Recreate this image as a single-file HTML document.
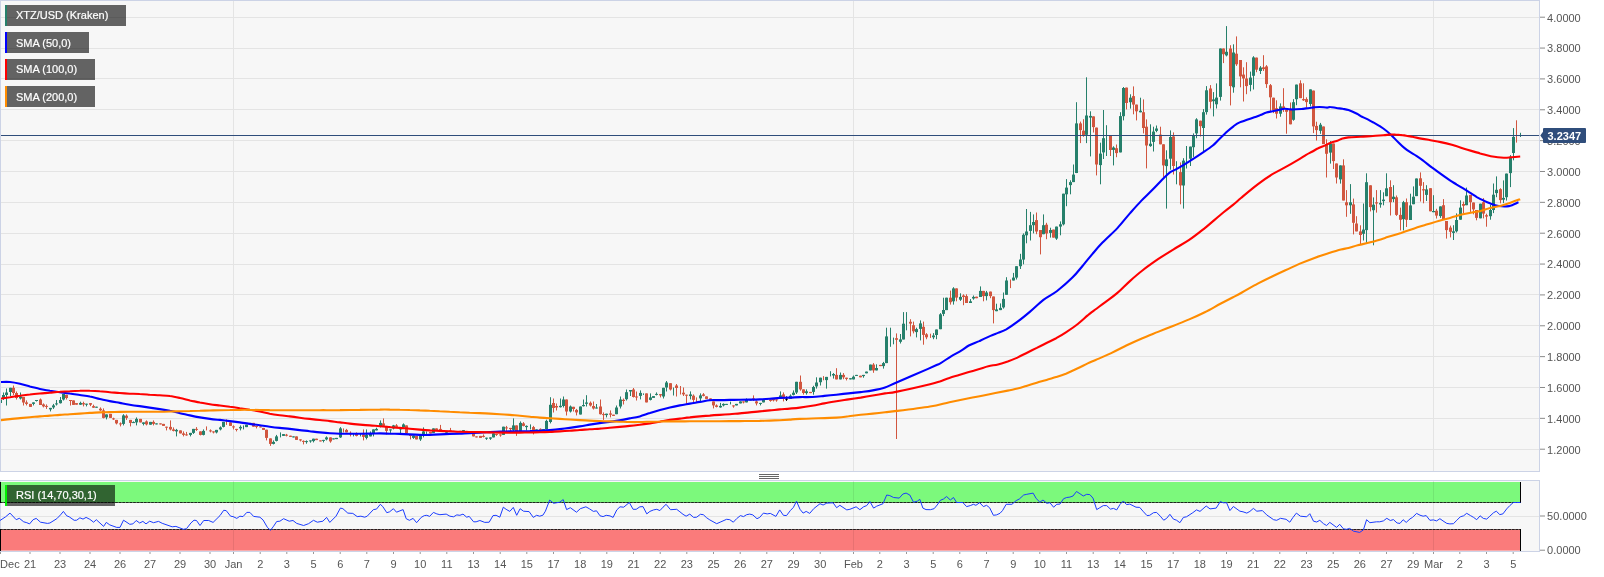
<!DOCTYPE html>
<html lang="en"><head><meta charset="utf-8"><title>XTZ/USD (Kraken)</title>
<style>html,body{margin:0;padding:0;background:#fff}body{width:1604px;height:577px;overflow:hidden}svg{display:block}text{font-family:'Liberation Sans', sans-serif}svg{will-change:transform}</style>
</head><body>
<svg width="1604" height="577" viewBox="0 0 1604 577">
<rect width="1604" height="577" fill="#fff"/>
<rect x="0" y="0" width="1539" height="471" fill="#f7f7f7"/>
<rect x="0" y="480" width="1539" height="71" fill="#f7f7f7"/>
<g stroke="#e4e4e4" stroke-width="1" shape-rendering="crispEdges">
<line x1="1" x2="1539" y1="17.5" y2="17.5"/>
<line x1="1" x2="1539" y1="48.5" y2="48.5"/>
<line x1="1" x2="1539" y1="78.5" y2="78.5"/>
<line x1="1" x2="1539" y1="109.5" y2="109.5"/>
<line x1="1" x2="1539" y1="140.5" y2="140.5"/>
<line x1="1" x2="1539" y1="171.5" y2="171.5"/>
<line x1="1" x2="1539" y1="202.5" y2="202.5"/>
<line x1="1" x2="1539" y1="233.5" y2="233.5"/>
<line x1="1" x2="1539" y1="264.5" y2="264.5"/>
<line x1="1" x2="1539" y1="294.5" y2="294.5"/>
<line x1="1" x2="1539" y1="325.5" y2="325.5"/>
<line x1="1" x2="1539" y1="356.5" y2="356.5"/>
<line x1="1" x2="1539" y1="387.5" y2="387.5"/>
<line x1="1" x2="1539" y1="418.5" y2="418.5"/>
<line x1="1" x2="1539" y1="449.5" y2="449.5"/>
<line x1="233.5" x2="233.5" y1="1" y2="471"/>
<line x1="853.5" x2="853.5" y1="1" y2="471"/>
<line x1="1433.5" x2="1433.5" y1="1" y2="471"/>
<line x1="1" x2="1539" y1="516.5" y2="516.5"/>
</g>
<g>
<g fill="#26806b"><rect x="0" y="399.0" width="1" height="6.0"/><rect x="3" y="392.5" width="1" height="7.5"/><rect x="6" y="388.5" width="1" height="17.0"/><rect x="10" y="387.8" width="1" height="8.2"/><rect x="20" y="392.5" width="1" height="7.0"/><rect x="33" y="402.4" width="1" height="3.0"/><rect x="36" y="400.0" width="1" height="1.5"/><rect x="50" y="407.9" width="1" height="3.5"/><rect x="53" y="403.9" width="1" height="5.0"/><rect x="56" y="400.0" width="1" height="5.5"/><rect x="60" y="397.0" width="1" height="6.5"/><rect x="63" y="394.0" width="1" height="6.5"/><rect x="80" y="401.7" width="1" height="3.2"/><rect x="86" y="403.7" width="1" height="2.7"/><rect x="96" y="406.7" width="1" height="1.0"/><rect x="106" y="414.4" width="1" height="5.0"/><rect x="123" y="414.2" width="1" height="11.2"/><rect x="133" y="421.4" width="1" height="1.5"/><rect x="136" y="417.4" width="1" height="8.0"/><rect x="143" y="422.4" width="1" height="3.0"/><rect x="150" y="421.9" width="1" height="2.8"/><rect x="156" y="423.4" width="1" height="1.0"/><rect x="176" y="428.9" width="1" height="7.5"/><rect x="190" y="432.9" width="1" height="3.5"/><rect x="193" y="428.9" width="1" height="5.0"/><rect x="203" y="429.4" width="1" height="6.0"/><rect x="216" y="429.9" width="1" height="3.5"/><rect x="220" y="426.4" width="1" height="4.0"/><rect x="223" y="421.9" width="1" height="5.5"/><rect x="240" y="425.4" width="1" height="5.0"/><rect x="243" y="425.4" width="1" height="4.0"/><rect x="246" y="424.7" width="1" height="2.4"/><rect x="250" y="422.9" width="1" height="1.0"/><rect x="273" y="440.4" width="1" height="4.0"/><rect x="276" y="434.9" width="1" height="6.5"/><rect x="280" y="432.4" width="1" height="5.0"/><rect x="283" y="434.1" width="1" height="1.8"/><rect x="293" y="436.4" width="1" height="1.0"/><rect x="306" y="440.4" width="1" height="3.3"/><rect x="310" y="440.4" width="1" height="2.3"/><rect x="313" y="438.7" width="1" height="3.7"/><rect x="323" y="439.9" width="1" height="2.5"/><rect x="326" y="436.4" width="1" height="4.0"/><rect x="333" y="438.4" width="1" height="1.0"/><rect x="336" y="437.9" width="1" height="1.2"/><rect x="340" y="427.1" width="1" height="10.8"/><rect x="353" y="433.4" width="1" height="3.0"/><rect x="360" y="433.9" width="1" height="2.5"/><rect x="366" y="429.4" width="1" height="10.0"/><rect x="370" y="431.4" width="1" height="5.0"/><rect x="373" y="429.4" width="1" height="7.0"/><rect x="376" y="427.7" width="1" height="2.7"/><rect x="380" y="420.4" width="1" height="7.0"/><rect x="390" y="429.4" width="1" height="3.5"/><rect x="393" y="424.9" width="1" height="4.5"/><rect x="400" y="428.4" width="1" height="5.0"/><rect x="403" y="423.4" width="1" height="4.0"/><rect x="413" y="435.4" width="1" height="3.5"/><rect x="420" y="435.4" width="1" height="5.5"/><rect x="423" y="427.4" width="1" height="10.0"/><rect x="426" y="431.4" width="1" height="2.5"/><rect x="433" y="428.4" width="1" height="4.5"/><rect x="446" y="431.4" width="1" height="1.3"/><rect x="453" y="430.9" width="1" height="1.0"/><rect x="460" y="430.9" width="1" height="1.0"/><rect x="463" y="430.1" width="1" height="1.3"/><rect x="486" y="437.7" width="1" height="2.2"/><rect x="490" y="437.4" width="1" height="2.5"/><rect x="493" y="433.4" width="1" height="4.0"/><rect x="503" y="426.7" width="1" height="8.2"/><rect x="513" y="418.4" width="1" height="12.5"/><rect x="520" y="421.4" width="1" height="9.5"/><rect x="526" y="425.4" width="1" height="5.0"/><rect x="530" y="424.4" width="1" height="5.0"/><rect x="536" y="429.4" width="1" height="1.0"/><rect x="543" y="429.1" width="1" height="1.0"/><rect x="546" y="419.7" width="1" height="9.7"/><rect x="550" y="397.2" width="1" height="26.2"/><rect x="560" y="398.5" width="1" height="9.0"/><rect x="563" y="396.5" width="1" height="11.0"/><rect x="570" y="405.5" width="1" height="7.0"/><rect x="580" y="406.5" width="1" height="8.0"/><rect x="583" y="399.5" width="1" height="7.0"/><rect x="586" y="395.2" width="1" height="11.3"/><rect x="596" y="404.0" width="1" height="4.5"/><rect x="606" y="413.7" width="1" height="3.7"/><rect x="616" y="405.5" width="1" height="8.7"/><rect x="620" y="396.5" width="1" height="12.0"/><rect x="626" y="389.5" width="1" height="11.0"/><rect x="630" y="390.0" width="1" height="6.0"/><rect x="640" y="390.4" width="1" height="9.0"/><rect x="643" y="393.4" width="1" height="1.5"/><rect x="650" y="393.4" width="1" height="7.0"/><rect x="653" y="396.1" width="1" height="1.8"/><rect x="656" y="392.4" width="1" height="3.0"/><rect x="663" y="387.8" width="1" height="10.7"/><rect x="666" y="381.0" width="1" height="10.5"/><rect x="673" y="387.5" width="1" height="8.0"/><rect x="690" y="391.4" width="1" height="8.0"/><rect x="700" y="393.4" width="1" height="8.5"/><rect x="720" y="402.9" width="1" height="4.8"/><rect x="723" y="403.4" width="1" height="3.0"/><rect x="726" y="403.9" width="1" height="1.0"/><rect x="730" y="401.7" width="1" height="2.7"/><rect x="736" y="403.9" width="1" height="1.5"/><rect x="740" y="401.4" width="1" height="2.0"/><rect x="746" y="398.4" width="1" height="4.0"/><rect x="750" y="399.4" width="1" height="1.0"/><rect x="760" y="402.9" width="1" height="2.5"/><rect x="763" y="399.9" width="1" height="2.5"/><rect x="780" y="391.4" width="1" height="7.5"/><rect x="790" y="394.4" width="1" height="4.5"/><rect x="793" y="390.4" width="1" height="5.0"/><rect x="796" y="381.8" width="1" height="12.2"/><rect x="806" y="389.4" width="1" height="5.2"/><rect x="813" y="385.8" width="1" height="8.9"/><rect x="816" y="377.3" width="1" height="11.3"/><rect x="820" y="377.7" width="1" height="7.8"/><rect x="826" y="376.9" width="1" height="11.7"/><rect x="830" y="371.2" width="1" height="5.2"/><rect x="833" y="373.1" width="1" height="5.5"/><rect x="840" y="372.5" width="1" height="6.9"/><rect x="850" y="378.2" width="1" height="1.2"/><rect x="853" y="375.5" width="1" height="3.9"/><rect x="856" y="374.9" width="1" height="1.0"/><rect x="863" y="374.9" width="1" height="2.8"/><rect x="866" y="371.6" width="1" height="1.7"/><rect x="870" y="364.6" width="1" height="5.8"/><rect x="876" y="364.3" width="1" height="6.1"/><rect x="883" y="361.9" width="1" height="6.7"/><rect x="886" y="327.7" width="1" height="35.4"/><rect x="890" y="327.7" width="1" height="19.1"/><rect x="893" y="337.6" width="1" height="6.7"/><rect x="900" y="334.0" width="1" height="9.5"/><rect x="903" y="312.1" width="1" height="27.3"/><rect x="906" y="312.1" width="1" height="18.2"/><rect x="916" y="327.7" width="1" height="9.7"/><rect x="920" y="320.4" width="1" height="20.0"/><rect x="933" y="333.1" width="1" height="6.1"/><rect x="936" y="329.5" width="1" height="9.7"/><rect x="940" y="313.1" width="1" height="16.1"/><rect x="943" y="297.7" width="1" height="18.4"/><rect x="946" y="297.7" width="1" height="12.4"/><rect x="953" y="287.2" width="1" height="17.4"/><rect x="960" y="293.3" width="1" height="7.6"/><rect x="970" y="299.1" width="1" height="3.9"/><rect x="973" y="295.5" width="1" height="4.2"/><rect x="980" y="286.4" width="1" height="10.6"/><rect x="986" y="290.9" width="1" height="9.5"/><rect x="996" y="303.7" width="1" height="7.5"/><rect x="1000" y="303.4" width="1" height="6.7"/><rect x="1003" y="292.5" width="1" height="16.1"/><rect x="1006" y="277.2" width="1" height="17.5"/><rect x="1013" y="272.9" width="1" height="7.6"/><rect x="1016" y="266.2" width="1" height="13.3"/><rect x="1020" y="253.8" width="1" height="15.2"/><rect x="1023" y="233.4" width="1" height="30.9"/><rect x="1026" y="209.0" width="1" height="34.3"/><rect x="1030" y="211.9" width="1" height="28.6"/><rect x="1033" y="214.4" width="1" height="19.0"/><rect x="1043" y="214.4" width="1" height="19.8"/><rect x="1050" y="227.7" width="1" height="9.9"/><rect x="1056" y="226.6" width="1" height="13.3"/><rect x="1060" y="221.4" width="1" height="13.9"/><rect x="1063" y="193.7" width="1" height="31.7"/><rect x="1066" y="179.1" width="1" height="27.1"/><rect x="1070" y="180.3" width="1" height="14.0"/><rect x="1073" y="164.5" width="1" height="17.6"/><rect x="1076" y="102.2" width="1" height="70.9"/><rect x="1086" y="77.3" width="1" height="65.8"/><rect x="1090" y="111.3" width="1" height="45.1"/><rect x="1100" y="142.7" width="1" height="41.6"/><rect x="1103" y="110.0" width="1" height="49.0"/><rect x="1106" y="125.2" width="1" height="30.8"/><rect x="1113" y="146.3" width="1" height="19.1"/><rect x="1120" y="112.2" width="1" height="40.2"/><rect x="1123" y="87.0" width="1" height="33.4"/><rect x="1130" y="94.3" width="1" height="14.3"/><rect x="1140" y="97.7" width="1" height="14.6"/><rect x="1150" y="124.3" width="1" height="22.5"/><rect x="1153" y="126.7" width="1" height="24.8"/><rect x="1156" y="125.5" width="1" height="6.7"/><rect x="1166" y="150.3" width="1" height="58.3"/><rect x="1170" y="130.4" width="1" height="39.3"/><rect x="1176" y="161.2" width="1" height="23.1"/><rect x="1183" y="158.2" width="1" height="50.4"/><rect x="1186" y="146.0" width="1" height="22.5"/><rect x="1190" y="146.6" width="1" height="19.4"/><rect x="1193" y="133.4" width="1" height="23.5"/><rect x="1196" y="118.2" width="1" height="20.0"/><rect x="1203" y="109.1" width="1" height="43.0"/><rect x="1206" y="86.1" width="1" height="28.5"/><rect x="1213" y="92.1" width="1" height="24.3"/><rect x="1216" y="83.4" width="1" height="25.1"/><rect x="1220" y="48.5" width="1" height="52.1"/><rect x="1226" y="26.1" width="1" height="30.3"/><rect x="1233" y="44.3" width="1" height="48.4"/><rect x="1250" y="71.6" width="1" height="19.7"/><rect x="1253" y="56.2" width="1" height="33.3"/><rect x="1260" y="66.1" width="1" height="7.9"/><rect x="1280" y="103.4" width="1" height="13.3"/><rect x="1293" y="99.1" width="1" height="21.6"/><rect x="1296" y="84.6" width="1" height="20.6"/><rect x="1310" y="89.4" width="1" height="17.0"/><rect x="1320" y="122.9" width="1" height="10.9"/><rect x="1330" y="141.1" width="1" height="22.5"/><rect x="1340" y="165.4" width="1" height="18.2"/><rect x="1350" y="184.1" width="1" height="29.7"/><rect x="1363" y="203.5" width="1" height="37.0"/><rect x="1366" y="173.3" width="1" height="69.7"/><rect x="1373" y="197.4" width="1" height="47.9"/><rect x="1380" y="190.1" width="1" height="17.6"/><rect x="1383" y="192.3" width="1" height="13.0"/><rect x="1386" y="173.3" width="1" height="22.9"/><rect x="1393" y="185.2" width="1" height="17.0"/><rect x="1403" y="200.9" width="1" height="29.5"/><rect x="1410" y="193.7" width="1" height="26.3"/><rect x="1413" y="186.4" width="1" height="17.8"/><rect x="1416" y="178.5" width="1" height="17.6"/><rect x="1426" y="185.2" width="1" height="15.8"/><rect x="1433" y="195.2" width="1" height="17.0"/><rect x="1440" y="206.4" width="1" height="11.5"/><rect x="1453" y="225.2" width="1" height="14.8"/><rect x="1456" y="213.4" width="1" height="19.1"/><rect x="1460" y="200.3" width="1" height="19.4"/><rect x="1466" y="187.6" width="1" height="17.6"/><rect x="1480" y="203.7" width="1" height="14.6"/><rect x="1490" y="204.8" width="1" height="14.9"/><rect x="1493" y="183.5" width="1" height="29.6"/><rect x="1496" y="176.4" width="1" height="20.8"/><rect x="1503" y="180.4" width="1" height="22.7"/><rect x="1506" y="173.6" width="1" height="27.0"/><rect x="1510" y="155.1" width="1" height="32.0"/><rect x="1513" y="128.1" width="1" height="32.2"/><rect x="1520" y="132.8" width="1" height="4.2"/><rect x="-1" y="400.0" width="3" height="3.0"/><rect x="2" y="395.0" width="3" height="4.0"/><rect x="5" y="392.5" width="3" height="2.5"/><rect x="9" y="387.8" width="3" height="4.2"/><rect x="19" y="396.5" width="3" height="2.0"/><rect x="32" y="402.4" width="3" height="1.5"/><rect x="35" y="400.0" width="3" height="1.0"/><rect x="49" y="407.9" width="3" height="1.5"/><rect x="52" y="405.4" width="3" height="2.0"/><rect x="55" y="403.4" width="3" height="1.0"/><rect x="59" y="400.0" width="3" height="3.2"/><rect x="62" y="394.0" width="3" height="5.5"/><rect x="79" y="402.9" width="3" height="1.8"/><rect x="85" y="403.7" width="3" height="1.0"/><rect x="95" y="406.7" width="3" height="1.0"/><rect x="105" y="414.4" width="3" height="3.0"/><rect x="122" y="415.4" width="3" height="8.5"/><rect x="132" y="422.1" width="3" height="1.0"/><rect x="135" y="418.9" width="3" height="3.5"/><rect x="142" y="422.4" width="3" height="1.5"/><rect x="149" y="421.9" width="3" height="2.8"/><rect x="155" y="423.4" width="3" height="1.0"/><rect x="175" y="429.9" width="3" height="1.5"/><rect x="189" y="432.9" width="3" height="2.0"/><rect x="192" y="428.9" width="3" height="4.0"/><rect x="202" y="430.9" width="3" height="4.0"/><rect x="215" y="429.9" width="3" height="2.5"/><rect x="219" y="427.4" width="3" height="2.0"/><rect x="222" y="421.9" width="3" height="5.0"/><rect x="239" y="426.9" width="3" height="1.5"/><rect x="245" y="424.7" width="3" height="2.4"/><rect x="249" y="422.9" width="3" height="1.0"/><rect x="272" y="441.9" width="3" height="2.0"/><rect x="275" y="436.4" width="3" height="4.5"/><rect x="282" y="434.1" width="3" height="1.8"/><rect x="292" y="436.4" width="3" height="1.0"/><rect x="305" y="441.1" width="3" height="1.0"/><rect x="309" y="440.4" width="3" height="1.0"/><rect x="312" y="438.7" width="3" height="2.4"/><rect x="322" y="439.9" width="3" height="1.0"/><rect x="325" y="437.4" width="3" height="2.0"/><rect x="332" y="438.4" width="3" height="1.0"/><rect x="335" y="437.9" width="3" height="1.2"/><rect x="339" y="428.4" width="3" height="9.0"/><rect x="365" y="434.9" width="3" height="3.0"/><rect x="369" y="433.4" width="3" height="3.0"/><rect x="372" y="429.4" width="3" height="4.5"/><rect x="375" y="428.9" width="3" height="1.5"/><rect x="379" y="422.9" width="3" height="4.0"/><rect x="389" y="429.4" width="3" height="1.0"/><rect x="392" y="425.4" width="3" height="3.0"/><rect x="399" y="428.4" width="3" height="1.0"/><rect x="402" y="424.4" width="3" height="3.0"/><rect x="412" y="435.4" width="3" height="2.5"/><rect x="419" y="435.4" width="3" height="4.0"/><rect x="422" y="431.4" width="3" height="4.0"/><rect x="432" y="428.4" width="3" height="4.5"/><rect x="445" y="431.4" width="3" height="1.3"/><rect x="452" y="430.9" width="3" height="1.0"/><rect x="459" y="430.9" width="3" height="1.0"/><rect x="462" y="430.1" width="3" height="1.3"/><rect x="485" y="437.7" width="3" height="1.0"/><rect x="489" y="437.4" width="3" height="1.3"/><rect x="492" y="433.4" width="3" height="4.0"/><rect x="502" y="426.7" width="3" height="8.2"/><rect x="512" y="425.4" width="3" height="4.5"/><rect x="519" y="422.9" width="3" height="8.0"/><rect x="525" y="425.9" width="3" height="1.2"/><rect x="535" y="429.4" width="3" height="1.0"/><rect x="542" y="429.1" width="3" height="1.0"/><rect x="545" y="420.9" width="3" height="8.5"/><rect x="549" y="404.8" width="3" height="17.2"/><rect x="559" y="405.8" width="3" height="1.4"/><rect x="562" y="399.5" width="3" height="6.5"/><rect x="569" y="406.5" width="3" height="5.0"/><rect x="579" y="406.5" width="3" height="8.0"/><rect x="582" y="405.0" width="3" height="1.2"/><rect x="585" y="402.5" width="3" height="1.3"/><rect x="595" y="407.5" width="3" height="1.0"/><rect x="605" y="413.7" width="3" height="1.4"/><rect x="615" y="407.5" width="3" height="6.7"/><rect x="619" y="399.5" width="3" height="7.0"/><rect x="625" y="392.2" width="3" height="7.0"/><rect x="629" y="390.0" width="3" height="1.5"/><rect x="639" y="392.9" width="3" height="3.0"/><rect x="649" y="397.4" width="3" height="2.5"/><rect x="652" y="396.1" width="3" height="1.8"/><rect x="655" y="393.9" width="3" height="1.0"/><rect x="662" y="387.8" width="3" height="8.7"/><rect x="665" y="382.5" width="3" height="5.0"/><rect x="689" y="394.4" width="3" height="1.7"/><rect x="699" y="395.4" width="3" height="3.0"/><rect x="719" y="405.9" width="3" height="1.5"/><rect x="722" y="403.9" width="3" height="1.5"/><rect x="725" y="403.9" width="3" height="1.0"/><rect x="735" y="403.9" width="3" height="1.5"/><rect x="739" y="401.4" width="3" height="2.0"/><rect x="745" y="399.4" width="3" height="3.0"/><rect x="749" y="399.4" width="3" height="1.0"/><rect x="759" y="402.9" width="3" height="1.0"/><rect x="762" y="399.9" width="3" height="2.5"/><rect x="779" y="395.4" width="3" height="3.5"/><rect x="789" y="395.7" width="3" height="3.2"/><rect x="792" y="392.7" width="3" height="2.2"/><rect x="795" y="381.8" width="3" height="10.7"/><rect x="805" y="391.3" width="3" height="1.8"/><rect x="812" y="387.0" width="3" height="4.9"/><rect x="815" y="382.5" width="3" height="3.9"/><rect x="819" y="377.7" width="3" height="4.5"/><rect x="825" y="376.9" width="3" height="3.2"/><rect x="832" y="374.0" width="3" height="1.5"/><rect x="839" y="374.9" width="3" height="4.5"/><rect x="849" y="378.2" width="3" height="1.2"/><rect x="852" y="376.7" width="3" height="2.7"/><rect x="855" y="374.9" width="3" height="1.0"/><rect x="862" y="374.9" width="3" height="1.2"/><rect x="865" y="371.6" width="3" height="1.7"/><rect x="869" y="364.6" width="3" height="5.8"/><rect x="875" y="368.0" width="3" height="2.4"/><rect x="882" y="363.1" width="3" height="3.0"/><rect x="885" y="336.4" width="3" height="26.7"/><rect x="899" y="339.4" width="3" height="2.4"/><rect x="902" y="323.7" width="3" height="15.8"/><rect x="915" y="329.1" width="3" height="3.0"/><rect x="919" y="323.4" width="3" height="5.5"/><rect x="932" y="335.5" width="3" height="1.8"/><rect x="935" y="329.5" width="3" height="5.5"/><rect x="939" y="314.3" width="3" height="14.9"/><rect x="942" y="310.0" width="3" height="3.9"/><rect x="945" y="297.7" width="3" height="12.4"/><rect x="952" y="288.4" width="3" height="12.9"/><rect x="959" y="296.9" width="3" height="2.8"/><rect x="969" y="301.3" width="3" height="1.7"/><rect x="972" y="296.9" width="3" height="1.6"/><rect x="979" y="290.9" width="3" height="6.1"/><rect x="985" y="292.5" width="3" height="3.6"/><rect x="995" y="309.4" width="3" height="1.8"/><rect x="999" y="307.9" width="3" height="2.2"/><rect x="1002" y="298.9" width="3" height="8.5"/><rect x="1005" y="280.5" width="3" height="14.3"/><rect x="1012" y="277.6" width="3" height="2.9"/><rect x="1015" y="266.2" width="3" height="11.4"/><rect x="1019" y="259.5" width="3" height="6.7"/><rect x="1022" y="234.8" width="3" height="24.8"/><rect x="1025" y="231.5" width="3" height="3.8"/><rect x="1029" y="225.2" width="3" height="5.7"/><rect x="1032" y="222.0" width="3" height="3.2"/><rect x="1042" y="225.2" width="3" height="9.0"/><rect x="1049" y="230.0" width="3" height="2.9"/><rect x="1055" y="226.6" width="3" height="12.0"/><rect x="1059" y="224.3" width="3" height="2.3"/><rect x="1062" y="193.7" width="3" height="30.6"/><rect x="1065" y="187.6" width="3" height="6.7"/><rect x="1069" y="182.1" width="3" height="3.0"/><rect x="1072" y="174.6" width="3" height="7.5"/><rect x="1075" y="123.4" width="3" height="49.6"/><rect x="1085" y="115.5" width="3" height="19.3"/><rect x="1089" y="115.9" width="3" height="1.7"/><rect x="1099" y="153.6" width="3" height="11.5"/><rect x="1102" y="138.2" width="3" height="14.2"/><rect x="1112" y="147.5" width="3" height="2.4"/><rect x="1119" y="116.1" width="3" height="36.3"/><rect x="1122" y="88.0" width="3" height="28.2"/><rect x="1129" y="97.7" width="3" height="4.5"/><rect x="1139" y="110.7" width="3" height="1.6"/><rect x="1149" y="143.7" width="3" height="2.4"/><rect x="1152" y="131.6" width="3" height="10.3"/><rect x="1155" y="128.5" width="3" height="2.4"/><rect x="1165" y="159.4" width="3" height="6.7"/><rect x="1169" y="137.0" width="3" height="21.7"/><rect x="1182" y="160.6" width="3" height="24.9"/><rect x="1189" y="146.6" width="3" height="12.1"/><rect x="1192" y="135.2" width="3" height="12.0"/><rect x="1195" y="119.4" width="3" height="14.0"/><rect x="1202" y="112.2" width="3" height="15.8"/><rect x="1205" y="90.3" width="3" height="21.8"/><rect x="1212" y="99.4" width="3" height="1.8"/><rect x="1215" y="97.6" width="3" height="6.7"/><rect x="1219" y="48.5" width="3" height="48.4"/><rect x="1225" y="51.8" width="3" height="3.6"/><rect x="1232" y="52.5" width="3" height="34.8"/><rect x="1249" y="77.6" width="3" height="7.3"/><rect x="1252" y="57.4" width="3" height="18.4"/><rect x="1259" y="67.6" width="3" height="3.4"/><rect x="1279" y="106.4" width="3" height="7.3"/><rect x="1292" y="102.2" width="3" height="17.6"/><rect x="1295" y="84.6" width="3" height="14.6"/><rect x="1309" y="89.4" width="3" height="14.6"/><rect x="1319" y="124.7" width="3" height="6.1"/><rect x="1329" y="143.5" width="3" height="9.1"/><rect x="1339" y="165.4" width="3" height="14.0"/><rect x="1349" y="202.3" width="3" height="3.0"/><rect x="1362" y="229.6" width="3" height="4.2"/><rect x="1365" y="182.2" width="3" height="47.9"/><rect x="1372" y="204.7" width="3" height="5.5"/><rect x="1379" y="202.9" width="3" height="1.6"/><rect x="1382" y="199.6" width="3" height="1.5"/><rect x="1385" y="188.3" width="3" height="7.9"/><rect x="1392" y="196.7" width="3" height="2.4"/><rect x="1402" y="202.2" width="3" height="17.0"/><rect x="1409" y="205.4" width="3" height="14.6"/><rect x="1412" y="196.7" width="3" height="7.5"/><rect x="1415" y="178.5" width="3" height="17.6"/><rect x="1425" y="189.4" width="3" height="5.5"/><rect x="1432" y="211.0" width="3" height="1.2"/><rect x="1439" y="206.4" width="3" height="9.7"/><rect x="1452" y="231.3" width="3" height="1.6"/><rect x="1455" y="220.0" width="3" height="11.3"/><rect x="1459" y="207.6" width="3" height="12.1"/><rect x="1465" y="195.5" width="3" height="9.7"/><rect x="1479" y="203.7" width="3" height="14.6"/><rect x="1489" y="210.0" width="3" height="6.2"/><rect x="1492" y="194.7" width="3" height="15.3"/><rect x="1495" y="189.8" width="3" height="3.3"/><rect x="1502" y="197.9" width="3" height="1.8"/><rect x="1505" y="173.6" width="3" height="23.6"/><rect x="1509" y="156.7" width="3" height="16.4"/><rect x="1512" y="136.9" width="3" height="16.1"/></g>
<g fill="#d1563f"><rect x="13" y="385.5" width="1" height="9.5"/><rect x="16" y="391.5" width="1" height="8.0"/><rect x="23" y="397.0" width="1" height="8.5"/><rect x="26" y="400.4" width="1" height="5.0"/><rect x="30" y="403.9" width="1" height="3.0"/><rect x="40" y="398.5" width="1" height="6.5"/><rect x="43" y="403.4" width="1" height="4.0"/><rect x="46" y="404.4" width="1" height="4.5"/><rect x="66" y="394.8" width="1" height="4.7"/><rect x="70" y="400.0" width="1" height="5.5"/><rect x="73" y="400.4" width="1" height="4.5"/><rect x="76" y="403.1" width="1" height="1.6"/><rect x="83" y="401.7" width="1" height="4.7"/><rect x="90" y="403.1" width="1" height="3.0"/><rect x="93" y="404.7" width="1" height="3.2"/><rect x="100" y="407.4" width="1" height="3.5"/><rect x="103" y="408.4" width="1" height="10.0"/><rect x="110" y="413.9" width="1" height="4.0"/><rect x="113" y="417.7" width="1" height="2.2"/><rect x="116" y="419.9" width="1" height="4.5"/><rect x="120" y="422.4" width="1" height="4.0"/><rect x="126" y="414.4" width="1" height="5.5"/><rect x="130" y="419.9" width="1" height="6.5"/><rect x="140" y="418.9" width="1" height="3.5"/><rect x="146" y="420.4" width="1" height="5.0"/><rect x="153" y="420.4" width="1" height="5.0"/><rect x="160" y="423.4" width="1" height="1.0"/><rect x="163" y="423.9" width="1" height="2.0"/><rect x="166" y="426.7" width="1" height="3.7"/><rect x="170" y="420.4" width="1" height="10.0"/><rect x="173" y="427.4" width="1" height="4.0"/><rect x="180" y="430.4" width="1" height="3.0"/><rect x="183" y="431.4" width="1" height="5.0"/><rect x="186" y="431.9" width="1" height="3.8"/><rect x="196" y="427.1" width="1" height="3.8"/><rect x="200" y="431.4" width="1" height="4.0"/><rect x="206" y="426.4" width="1" height="4.0"/><rect x="210" y="429.4" width="1" height="3.0"/><rect x="213" y="431.4" width="1" height="2.0"/><rect x="226" y="419.4" width="1" height="5.5"/><rect x="230" y="422.4" width="1" height="3.5"/><rect x="233" y="425.4" width="1" height="4.0"/><rect x="236" y="428.9" width="1" height="2.5"/><rect x="253" y="422.9" width="1" height="3.8"/><rect x="256" y="425.9" width="1" height="2.5"/><rect x="260" y="426.4" width="1" height="1.0"/><rect x="263" y="427.9" width="1" height="2.0"/><rect x="266" y="429.7" width="1" height="10.7"/><rect x="270" y="438.4" width="1" height="7.5"/><rect x="286" y="433.9" width="1" height="2.5"/><rect x="290" y="435.7" width="1" height="1.2"/><rect x="296" y="436.4" width="1" height="3.5"/><rect x="300" y="439.4" width="1" height="2.0"/><rect x="303" y="440.4" width="1" height="4.0"/><rect x="316" y="438.7" width="1" height="1.4"/><rect x="320" y="440.4" width="1" height="1.0"/><rect x="330" y="437.4" width="1" height="5.3"/><rect x="343" y="428.4" width="1" height="4.0"/><rect x="346" y="428.9" width="1" height="3.5"/><rect x="350" y="431.4" width="1" height="5.0"/><rect x="356" y="432.4" width="1" height="4.0"/><rect x="363" y="429.4" width="1" height="11.0"/><rect x="383" y="418.4" width="1" height="8.5"/><rect x="386" y="425.9" width="1" height="8.5"/><rect x="396" y="424.1" width="1" height="2.8"/><rect x="406" y="425.4" width="1" height="9.5"/><rect x="410" y="434.9" width="1" height="4.5"/><rect x="416" y="435.9" width="1" height="3.5"/><rect x="430" y="431.9" width="1" height="1.5"/><rect x="436" y="428.4" width="1" height="2.0"/><rect x="440" y="424.9" width="1" height="5.0"/><rect x="443" y="430.4" width="1" height="1.0"/><rect x="450" y="427.9" width="1" height="4.0"/><rect x="456" y="431.1" width="1" height="1.0"/><rect x="466" y="430.9" width="1" height="1.2"/><rect x="470" y="431.9" width="1" height="1.5"/><rect x="473" y="433.4" width="1" height="3.0"/><rect x="476" y="436.4" width="1" height="1.0"/><rect x="480" y="435.9" width="1" height="2.0"/><rect x="483" y="434.4" width="1" height="3.0"/><rect x="496" y="433.9" width="1" height="2.0"/><rect x="500" y="434.4" width="1" height="2.3"/><rect x="506" y="425.9" width="1" height="5.0"/><rect x="510" y="427.9" width="1" height="3.0"/><rect x="516" y="425.4" width="1" height="10.5"/><rect x="523" y="422.1" width="1" height="4.3"/><rect x="533" y="425.9" width="1" height="8.5"/><rect x="540" y="428.4" width="1" height="1.5"/><rect x="553" y="398.5" width="1" height="14.0"/><rect x="556" y="403.5" width="1" height="7.0"/><rect x="566" y="399.5" width="1" height="16.0"/><rect x="573" y="406.8" width="1" height="4.7"/><rect x="576" y="408.9" width="1" height="6.5"/><rect x="590" y="401.5" width="1" height="5.0"/><rect x="593" y="401.5" width="1" height="8.0"/><rect x="600" y="399.5" width="1" height="15.0"/><rect x="603" y="412.4" width="1" height="7.5"/><rect x="610" y="410.4" width="1" height="7.0"/><rect x="613" y="414.7" width="1" height="1.2"/><rect x="623" y="398.5" width="1" height="6.0"/><rect x="633" y="388.0" width="1" height="9.5"/><rect x="636" y="391.5" width="1" height="9.0"/><rect x="646" y="393.4" width="1" height="9.0"/><rect x="660" y="394.1" width="1" height="3.3"/><rect x="670" y="383.2" width="1" height="7.3"/><rect x="676" y="384.0" width="1" height="12.5"/><rect x="680" y="386.0" width="1" height="8.5"/><rect x="683" y="387.5" width="1" height="8.5"/><rect x="686" y="394.7" width="1" height="9.2"/><rect x="693" y="394.4" width="1" height="8.0"/><rect x="696" y="397.4" width="1" height="5.0"/><rect x="703" y="393.1" width="1" height="3.3"/><rect x="706" y="396.4" width="1" height="2.5"/><rect x="710" y="398.4" width="1" height="1.5"/><rect x="713" y="401.4" width="1" height="7.0"/><rect x="716" y="404.4" width="1" height="3.0"/><rect x="733" y="405.4" width="1" height="2.3"/><rect x="743" y="401.4" width="1" height="2.0"/><rect x="753" y="395.4" width="1" height="5.5"/><rect x="756" y="400.4" width="1" height="5.0"/><rect x="766" y="398.7" width="1" height="1.2"/><rect x="770" y="399.4" width="1" height="2.3"/><rect x="773" y="398.9" width="1" height="2.5"/><rect x="776" y="399.4" width="1" height="2.3"/><rect x="783" y="392.4" width="1" height="9.0"/><rect x="800" y="375.5" width="1" height="15.2"/><rect x="803" y="389.4" width="1" height="5.2"/><rect x="810" y="391.9" width="1" height="1.2"/><rect x="823" y="376.1" width="1" height="4.2"/><rect x="836" y="368.2" width="1" height="11.2"/><rect x="843" y="373.1" width="1" height="6.1"/><rect x="846" y="377.7" width="1" height="2.7"/><rect x="860" y="375.7" width="1" height="1.6"/><rect x="873" y="363.1" width="1" height="9.7"/><rect x="880" y="364.9" width="1" height="1.2"/><rect x="896" y="333.4" width="1" height="105.6"/><rect x="910" y="319.2" width="1" height="17.2"/><rect x="913" y="321.6" width="1" height="11.8"/><rect x="923" y="321.6" width="1" height="23.1"/><rect x="926" y="333.1" width="1" height="6.1"/><rect x="930" y="333.7" width="1" height="4.2"/><rect x="950" y="290.6" width="1" height="14.0"/><rect x="956" y="288.4" width="1" height="12.9"/><rect x="963" y="294.3" width="1" height="10.9"/><rect x="966" y="294.3" width="1" height="8.7"/><rect x="976" y="296.7" width="1" height="1.5"/><rect x="983" y="290.9" width="1" height="10.4"/><rect x="990" y="291.6" width="1" height="6.6"/><rect x="993" y="296.5" width="1" height="26.9"/><rect x="1010" y="279.5" width="1" height="8.6"/><rect x="1036" y="212.5" width="1" height="21.7"/><rect x="1040" y="230.0" width="1" height="24.4"/><rect x="1046" y="222.8" width="1" height="16.4"/><rect x="1053" y="229.6" width="1" height="8.0"/><rect x="1080" y="121.6" width="1" height="21.5"/><rect x="1083" y="119.2" width="1" height="17.6"/><rect x="1093" y="116.4" width="1" height="16.1"/><rect x="1096" y="127.6" width="1" height="47.8"/><rect x="1110" y="136.0" width="1" height="20.0"/><rect x="1116" y="144.5" width="1" height="12.7"/><rect x="1126" y="87.6" width="1" height="21.8"/><rect x="1133" y="86.4" width="1" height="27.9"/><rect x="1136" y="104.6" width="1" height="15.8"/><rect x="1143" y="99.4" width="1" height="34.0"/><rect x="1146" y="119.4" width="1" height="49.0"/><rect x="1160" y="126.7" width="1" height="17.6"/><rect x="1163" y="144.3" width="1" height="32.6"/><rect x="1173" y="132.4" width="1" height="42.1"/><rect x="1180" y="162.4" width="1" height="41.9"/><rect x="1200" y="120.7" width="1" height="15.8"/><rect x="1210" y="85.1" width="1" height="23.4"/><rect x="1223" y="48.5" width="1" height="14.6"/><rect x="1230" y="45.2" width="1" height="60.2"/><rect x="1236" y="36.4" width="1" height="29.5"/><rect x="1240" y="60.0" width="1" height="27.3"/><rect x="1243" y="67.3" width="1" height="34.2"/><rect x="1246" y="62.2" width="1" height="32.0"/><rect x="1256" y="57.6" width="1" height="14.6"/><rect x="1263" y="55.2" width="1" height="15.8"/><rect x="1266" y="65.1" width="1" height="22.8"/><rect x="1270" y="84.0" width="1" height="27.3"/><rect x="1273" y="97.7" width="1" height="15.4"/><rect x="1276" y="100.3" width="1" height="18.2"/><rect x="1283" y="88.2" width="1" height="23.7"/><rect x="1286" y="109.4" width="1" height="24.3"/><rect x="1290" y="102.5" width="1" height="21.8"/><rect x="1300" y="80.3" width="1" height="17.8"/><rect x="1303" y="83.3" width="1" height="17.6"/><rect x="1306" y="97.3" width="1" height="10.3"/><rect x="1313" y="90.6" width="1" height="42.5"/><rect x="1316" y="121.7" width="1" height="18.8"/><rect x="1323" y="126.5" width="1" height="17.6"/><rect x="1326" y="139.3" width="1" height="38.2"/><rect x="1333" y="143.5" width="1" height="25.5"/><rect x="1336" y="163.5" width="1" height="20.0"/><rect x="1343" y="159.3" width="1" height="41.1"/><rect x="1346" y="190.1" width="1" height="26.7"/><rect x="1353" y="198.6" width="1" height="35.8"/><rect x="1356" y="216.2" width="1" height="15.2"/><rect x="1360" y="225.3" width="1" height="18.8"/><rect x="1370" y="185.3" width="1" height="26.1"/><rect x="1376" y="190.1" width="1" height="22.5"/><rect x="1390" y="180.3" width="1" height="35.2"/><rect x="1396" y="195.5" width="1" height="20.4"/><rect x="1400" y="207.6" width="1" height="22.8"/><rect x="1406" y="198.5" width="1" height="28.5"/><rect x="1420" y="172.4" width="1" height="29.1"/><rect x="1423" y="182.1" width="1" height="21.2"/><rect x="1430" y="188.2" width="1" height="23.1"/><rect x="1436" y="208.8" width="1" height="9.7"/><rect x="1443" y="199.1" width="1" height="20.0"/><rect x="1446" y="221.0" width="1" height="17.6"/><rect x="1450" y="225.6" width="1" height="11.8"/><rect x="1463" y="201.6" width="1" height="11.5"/><rect x="1470" y="194.9" width="1" height="17.0"/><rect x="1473" y="202.5" width="1" height="11.8"/><rect x="1476" y="210.0" width="1" height="10.3"/><rect x="1483" y="198.1" width="1" height="20.3"/><rect x="1486" y="213.7" width="1" height="13.0"/><rect x="1500" y="188.2" width="1" height="15.1"/><rect x="1516" y="120.3" width="1" height="22.3"/><rect x="12" y="387.8" width="3" height="5.2"/><rect x="15" y="393.0" width="3" height="5.0"/><rect x="22" y="397.0" width="3" height="5.5"/><rect x="25" y="402.4" width="3" height="1.5"/><rect x="29" y="403.9" width="3" height="3.0"/><rect x="39" y="399.5" width="3" height="5.5"/><rect x="42" y="404.4" width="3" height="2.0"/><rect x="45" y="405.9" width="3" height="1.0"/><rect x="65" y="394.8" width="3" height="3.2"/><rect x="69" y="400.0" width="3" height="1.0"/><rect x="72" y="400.4" width="3" height="4.5"/><rect x="75" y="403.1" width="3" height="1.6"/><rect x="82" y="403.1" width="3" height="1.3"/><rect x="89" y="403.1" width="3" height="1.6"/><rect x="92" y="406.1" width="3" height="1.6"/><rect x="99" y="408.7" width="3" height="1.7"/><rect x="102" y="410.4" width="3" height="7.5"/><rect x="109" y="413.9" width="3" height="4.0"/><rect x="112" y="418.4" width="3" height="1.0"/><rect x="115" y="419.9" width="3" height="3.5"/><rect x="119" y="423.4" width="3" height="1.0"/><rect x="125" y="415.7" width="3" height="2.2"/><rect x="129" y="419.9" width="3" height="3.0"/><rect x="139" y="418.9" width="3" height="3.5"/><rect x="145" y="421.4" width="3" height="3.0"/><rect x="152" y="421.9" width="3" height="2.0"/><rect x="159" y="423.4" width="3" height="1.0"/><rect x="162" y="423.9" width="3" height="2.0"/><rect x="165" y="426.7" width="3" height="1.0"/><rect x="169" y="426.9" width="3" height="2.5"/><rect x="172" y="429.4" width="3" height="1.5"/><rect x="179" y="430.4" width="3" height="3.0"/><rect x="182" y="433.4" width="3" height="1.5"/><rect x="185" y="434.4" width="3" height="1.0"/><rect x="195" y="428.9" width="3" height="1.0"/><rect x="199" y="431.4" width="3" height="3.5"/><rect x="209" y="430.4" width="3" height="1.0"/><rect x="212" y="431.4" width="3" height="1.0"/><rect x="229" y="422.4" width="3" height="3.5"/><rect x="232" y="426.4" width="3" height="1.0"/><rect x="235" y="428.9" width="3" height="1.0"/><rect x="252" y="422.9" width="3" height="3.8"/><rect x="255" y="425.9" width="3" height="1.0"/><rect x="259" y="426.4" width="3" height="1.0"/><rect x="262" y="427.9" width="3" height="2.0"/><rect x="265" y="429.7" width="3" height="8.2"/><rect x="269" y="438.4" width="3" height="5.5"/><rect x="285" y="434.7" width="3" height="1.0"/><rect x="289" y="435.7" width="3" height="1.2"/><rect x="295" y="436.4" width="3" height="3.5"/><rect x="299" y="439.4" width="3" height="1.0"/><rect x="302" y="440.9" width="3" height="1.0"/><rect x="315" y="438.7" width="3" height="1.4"/><rect x="319" y="440.4" width="3" height="1.0"/><rect x="329" y="437.4" width="3" height="4.0"/><rect x="345" y="429.9" width="3" height="2.5"/><rect x="349" y="432.9" width="3" height="1.5"/><rect x="355" y="433.9" width="3" height="2.0"/><rect x="362" y="434.4" width="3" height="2.5"/><rect x="382" y="423.4" width="3" height="2.5"/><rect x="385" y="425.9" width="3" height="5.0"/><rect x="395" y="425.4" width="3" height="1.5"/><rect x="405" y="425.4" width="3" height="8.0"/><rect x="409" y="434.9" width="3" height="1.0"/><rect x="415" y="435.9" width="3" height="3.5"/><rect x="429" y="431.9" width="3" height="1.5"/><rect x="435" y="428.4" width="3" height="2.0"/><rect x="439" y="428.9" width="3" height="1.0"/><rect x="442" y="430.4" width="3" height="1.0"/><rect x="449" y="430.4" width="3" height="1.0"/><rect x="455" y="431.1" width="3" height="1.0"/><rect x="465" y="430.9" width="3" height="1.2"/><rect x="469" y="431.9" width="3" height="1.5"/><rect x="472" y="433.4" width="3" height="3.0"/><rect x="475" y="436.4" width="3" height="1.0"/><rect x="479" y="435.9" width="3" height="2.0"/><rect x="482" y="435.9" width="3" height="1.0"/><rect x="495" y="433.9" width="3" height="1.0"/><rect x="499" y="434.4" width="3" height="1.0"/><rect x="505" y="427.4" width="3" height="1.0"/><rect x="509" y="427.9" width="3" height="1.2"/><rect x="515" y="425.4" width="3" height="6.0"/><rect x="522" y="423.4" width="3" height="2.5"/><rect x="532" y="427.1" width="3" height="3.8"/><rect x="539" y="428.9" width="3" height="1.0"/><rect x="552" y="403.0" width="3" height="5.0"/><rect x="555" y="406.0" width="3" height="1.5"/><rect x="565" y="399.5" width="3" height="12.0"/><rect x="572" y="406.8" width="3" height="2.2"/><rect x="575" y="409.9" width="3" height="2.5"/><rect x="589" y="402.8" width="3" height="2.7"/><rect x="592" y="406.0" width="3" height="2.5"/><rect x="599" y="406.5" width="3" height="7.7"/><rect x="602" y="414.1" width="3" height="1.0"/><rect x="609" y="413.4" width="3" height="1.3"/><rect x="612" y="414.7" width="3" height="1.2"/><rect x="622" y="399.8" width="3" height="1.2"/><rect x="632" y="389.5" width="3" height="7.5"/><rect x="635" y="396.5" width="3" height="1.0"/><rect x="645" y="393.4" width="3" height="9.0"/><rect x="659" y="394.1" width="3" height="1.3"/><rect x="669" y="383.2" width="3" height="6.3"/><rect x="675" y="385.5" width="3" height="2.5"/><rect x="682" y="392.7" width="3" height="1.7"/><rect x="685" y="394.7" width="3" height="1.0"/><rect x="692" y="395.7" width="3" height="4.2"/><rect x="702" y="394.4" width="3" height="1.5"/><rect x="705" y="396.4" width="3" height="2.5"/><rect x="709" y="398.4" width="3" height="1.5"/><rect x="712" y="401.4" width="3" height="4.0"/><rect x="715" y="405.4" width="3" height="1.5"/><rect x="732" y="405.4" width="3" height="1.0"/><rect x="742" y="401.4" width="3" height="1.0"/><rect x="752" y="398.4" width="3" height="1.5"/><rect x="755" y="401.4" width="3" height="2.0"/><rect x="765" y="398.7" width="3" height="1.2"/><rect x="769" y="399.4" width="3" height="1.5"/><rect x="772" y="398.9" width="3" height="1.5"/><rect x="775" y="399.4" width="3" height="1.0"/><rect x="782" y="394.4" width="3" height="4.5"/><rect x="799" y="381.8" width="3" height="7.6"/><rect x="802" y="389.4" width="3" height="3.6"/><rect x="809" y="391.9" width="3" height="1.2"/><rect x="835" y="374.9" width="3" height="4.5"/><rect x="842" y="374.9" width="3" height="2.4"/><rect x="845" y="377.7" width="3" height="1.2"/><rect x="859" y="375.7" width="3" height="1.6"/><rect x="872" y="364.6" width="3" height="5.8"/><rect x="879" y="364.9" width="3" height="1.2"/><rect x="895" y="338.2" width="3" height="1.6"/><rect x="909" y="321.8" width="3" height="1.8"/><rect x="912" y="325.2" width="3" height="6.1"/><rect x="922" y="326.8" width="3" height="8.1"/><rect x="925" y="334.3" width="3" height="3.0"/><rect x="949" y="297.7" width="3" height="4.5"/><rect x="955" y="288.4" width="3" height="9.2"/><rect x="962" y="295.5" width="3" height="1.5"/><rect x="965" y="296.1" width="3" height="6.9"/><rect x="975" y="296.7" width="3" height="1.5"/><rect x="982" y="290.9" width="3" height="5.2"/><rect x="989" y="291.6" width="3" height="4.5"/><rect x="992" y="296.5" width="3" height="13.6"/><rect x="1035" y="220.1" width="3" height="11.4"/><rect x="1039" y="230.0" width="3" height="7.2"/><rect x="1045" y="224.7" width="3" height="8.8"/><rect x="1052" y="229.6" width="3" height="8.0"/><rect x="1079" y="123.4" width="3" height="6.7"/><rect x="1082" y="130.7" width="3" height="4.9"/><rect x="1092" y="116.4" width="3" height="10.7"/><rect x="1095" y="127.6" width="3" height="36.9"/><rect x="1109" y="136.0" width="3" height="14.0"/><rect x="1115" y="148.2" width="3" height="4.9"/><rect x="1125" y="87.6" width="3" height="15.4"/><rect x="1132" y="96.1" width="3" height="8.5"/><rect x="1135" y="104.6" width="3" height="6.7"/><rect x="1142" y="112.2" width="3" height="15.8"/><rect x="1145" y="126.7" width="3" height="18.8"/><rect x="1159" y="134.6" width="3" height="9.7"/><rect x="1162" y="144.3" width="3" height="21.1"/><rect x="1172" y="136.4" width="3" height="29.6"/><rect x="1179" y="172.1" width="3" height="13.3"/><rect x="1199" y="120.7" width="3" height="5.5"/><rect x="1209" y="88.5" width="3" height="13.3"/><rect x="1222" y="48.5" width="3" height="5.7"/><rect x="1229" y="48.5" width="3" height="37.6"/><rect x="1235" y="53.7" width="3" height="10.6"/><rect x="1239" y="60.0" width="3" height="16.4"/><rect x="1242" y="74.6" width="3" height="3.9"/><rect x="1245" y="78.5" width="3" height="7.6"/><rect x="1255" y="57.6" width="3" height="12.1"/><rect x="1262" y="67.3" width="3" height="1.8"/><rect x="1265" y="66.4" width="3" height="17.7"/><rect x="1269" y="85.2" width="3" height="12.1"/><rect x="1272" y="97.7" width="3" height="12.4"/><rect x="1275" y="108.2" width="3" height="5.5"/><rect x="1282" y="106.4" width="3" height="2.4"/><rect x="1285" y="109.4" width="3" height="2.4"/><rect x="1289" y="110.0" width="3" height="14.3"/><rect x="1299" y="83.3" width="3" height="14.8"/><rect x="1302" y="99.1" width="3" height="1.2"/><rect x="1305" y="99.1" width="3" height="3.0"/><rect x="1312" y="90.6" width="3" height="35.8"/><rect x="1315" y="125.9" width="3" height="4.2"/><rect x="1322" y="126.5" width="3" height="17.6"/><rect x="1325" y="144.1" width="3" height="9.7"/><rect x="1332" y="143.5" width="3" height="17.6"/><rect x="1335" y="163.5" width="3" height="14.0"/><rect x="1342" y="165.4" width="3" height="35.1"/><rect x="1345" y="202.3" width="3" height="3.0"/><rect x="1352" y="204.4" width="3" height="18.4"/><rect x="1355" y="223.5" width="3" height="7.9"/><rect x="1359" y="231.4" width="3" height="3.6"/><rect x="1369" y="185.3" width="3" height="21.8"/><rect x="1375" y="202.3" width="3" height="1.2"/><rect x="1389" y="187.0" width="3" height="15.2"/><rect x="1395" y="197.3" width="3" height="17.6"/><rect x="1399" y="214.9" width="3" height="4.9"/><rect x="1405" y="202.2" width="3" height="17.6"/><rect x="1419" y="178.3" width="3" height="7.5"/><rect x="1422" y="189.2" width="3" height="1.2"/><rect x="1429" y="188.2" width="3" height="23.1"/><rect x="1435" y="210.7" width="3" height="4.9"/><rect x="1442" y="205.2" width="3" height="14.0"/><rect x="1445" y="221.0" width="3" height="9.1"/><rect x="1449" y="227.6" width="3" height="4.2"/><rect x="1462" y="204.0" width="3" height="1.8"/><rect x="1469" y="194.9" width="3" height="7.3"/><rect x="1472" y="202.5" width="3" height="6.9"/><rect x="1475" y="210.0" width="3" height="7.9"/><rect x="1482" y="202.2" width="3" height="11.4"/><rect x="1485" y="215.2" width="3" height="1.4"/><rect x="1499" y="189.2" width="3" height="10.9"/></g>
<g fill="#000"><rect x="786" y="396.4" width="1" height="4.5"/><rect x="785" y="398.6" width="3" height="1.0"/></g>
</g>
<rect x="0" y="135" width="1539" height="1" fill="#2f4d7b"/>
<g fill="none" stroke-width="2.1" stroke-linejoin="round" stroke-linecap="butt">
<path stroke="#0000ff" d="M0.0 382.0C1.7 382.0 6.7 381.7 10.0 382.0C13.3 382.3 16.6 383.0 20.0 383.8C23.3 384.5 26.6 385.6 29.9 386.5C33.3 387.3 36.6 388.3 39.9 389.0C43.2 389.7 46.6 390.2 49.9 390.8C53.2 391.3 56.5 391.8 59.9 392.3C63.2 392.7 66.5 393.0 69.8 393.5C73.2 393.9 76.5 394.5 79.8 395.0C83.1 395.5 86.5 395.8 89.8 396.5C93.1 397.1 96.4 398.2 99.8 399.0C103.1 399.7 106.4 400.5 109.7 401.1C113.1 401.8 116.4 402.3 119.7 402.9C123.0 403.5 126.4 404.2 129.7 404.7C133.0 405.3 136.3 405.7 139.7 406.1C143.0 406.6 146.3 407.1 149.6 407.6C153.0 408.1 156.4 408.6 159.8 409.1C163.2 409.6 166.6 410.1 170.0 410.8C173.3 411.4 176.6 412.4 180.0 413.2C183.3 413.9 186.6 414.7 189.9 415.4C193.3 416.2 196.6 416.9 199.9 417.4C203.2 418.0 206.6 418.5 209.9 418.9C213.2 419.4 216.5 419.6 219.9 419.9C223.2 420.3 226.5 420.7 229.8 421.1C233.2 421.6 236.5 422.0 239.8 422.4C243.1 422.9 246.5 423.5 249.8 423.9C253.1 424.4 256.4 424.8 259.8 425.2C263.1 425.7 266.4 426.3 269.7 426.7C273.1 427.2 276.4 427.6 279.7 427.9C283.0 428.3 286.4 428.5 289.7 428.9C293.0 429.3 296.3 429.7 299.7 430.1C303.0 430.5 306.3 430.8 309.6 431.2C313.0 431.6 316.4 432.1 319.8 432.4C323.2 432.7 326.6 433.0 330.0 433.2C333.3 433.4 336.6 433.6 340.0 433.7C343.3 433.8 346.6 433.7 349.9 433.7C353.3 433.7 356.6 433.7 359.9 433.7C363.2 433.7 366.6 433.7 369.9 433.6C373.2 433.6 376.5 433.4 379.9 433.4C383.2 433.4 386.5 433.6 389.8 433.7C393.2 433.8 396.5 433.8 399.8 433.9C403.1 434.0 406.5 434.2 409.8 434.4C413.1 434.6 416.4 434.8 419.8 434.9C423.1 435.0 426.4 435.0 429.7 434.9C433.1 434.8 436.4 434.6 439.7 434.4C443.0 434.2 446.4 434.0 449.7 433.9C453.0 433.8 456.3 433.7 459.7 433.6C463.0 433.5 466.3 433.3 469.6 433.2C473.0 433.1 476.4 432.9 479.8 432.7C483.2 432.6 486.6 432.3 490.0 432.1C493.3 431.9 496.6 431.7 500.0 431.6C503.3 431.5 506.6 431.5 509.9 431.4C513.3 431.3 516.6 431.2 519.9 431.2C523.2 431.1 526.6 431.1 529.9 431.1C533.2 431.0 536.5 431.1 539.9 430.9C543.2 430.7 546.5 430.4 549.8 430.1C553.2 429.8 556.5 429.5 559.8 429.1C563.1 428.7 566.5 428.3 569.8 427.9C573.1 427.5 576.4 427.0 579.8 426.4C583.1 425.9 586.4 425.2 589.7 424.6C593.1 424.1 596.4 423.6 599.7 423.1C603.0 422.7 606.4 422.4 609.7 421.9C613.0 421.5 616.3 421.0 619.7 420.4C623.0 419.8 626.3 419.1 629.6 418.4C633.0 417.8 636.4 417.3 639.8 416.4C643.2 415.5 646.6 414.1 650.0 413.1C653.3 412.0 656.6 411.0 660.0 410.1C663.3 409.2 666.6 408.4 669.9 407.6C673.3 406.8 676.6 406.1 679.9 405.4C683.2 404.7 686.6 404.2 689.9 403.6C693.2 403.0 696.5 402.5 699.9 401.9C703.2 401.4 706.5 400.5 709.8 400.2C713.2 399.9 716.5 400.2 719.8 400.1C723.1 400.1 726.5 400.0 729.8 399.9C733.1 399.9 736.4 399.8 739.8 399.7C743.1 399.7 746.4 399.7 749.7 399.6C753.1 399.6 756.4 399.6 759.7 399.4C763.0 399.3 766.4 399.1 769.7 398.8C773.0 398.6 776.3 398.1 779.7 397.9C783.0 397.7 786.3 397.8 789.6 397.6C793.0 397.5 796.0 397.2 799.8 397.1C803.6 397.0 808.1 397.2 812.1 397.0C816.2 396.8 820.2 396.3 824.3 395.9C828.3 395.5 832.4 395.1 836.4 394.7C840.5 394.3 844.5 393.9 848.5 393.4C852.6 393.0 856.6 392.6 860.7 392.1C864.7 391.6 868.8 391.2 872.8 390.4C876.9 389.7 880.9 389.0 885.0 387.6C889.0 386.2 890.0 385.2 897.1 382.2C904.2 379.1 920.8 372.0 927.5 369.1C934.1 366.2 935.0 365.8 937.2 364.8C939.4 363.8 938.4 364.5 940.7 363.1C943.0 361.7 947.6 358.5 951.1 356.3C954.7 354.2 959.1 351.9 962.0 350.1C965.0 348.3 966.0 347.0 968.8 345.5C971.7 344.0 975.6 342.7 979.2 341.1C982.8 339.4 987.4 337.2 990.5 335.9C993.7 334.5 995.3 334.0 998.0 332.9C1000.6 331.8 1003.1 331.1 1006.3 329.3C1009.5 327.4 1013.4 324.8 1017.2 321.9C1021.1 319.1 1025.1 315.8 1029.5 312.1C1033.9 308.5 1038.8 303.4 1043.4 299.9C1048.0 296.4 1052.3 294.7 1057.1 291.0C1062.0 287.2 1068.1 281.9 1072.4 277.6C1076.7 273.4 1079.5 269.4 1082.9 265.5C1086.2 261.5 1089.2 257.8 1092.5 253.9C1095.7 250.1 1098.3 246.9 1102.5 242.6C1106.6 238.3 1112.9 232.9 1117.4 228.1C1122.0 223.2 1125.9 217.9 1129.9 213.4C1133.9 208.9 1137.4 204.9 1141.2 200.9C1145.0 197.0 1148.9 193.5 1152.7 189.6C1156.6 185.7 1161.3 180.5 1164.3 177.6C1167.2 174.7 1168.3 173.6 1170.3 172.2C1172.4 170.7 1173.4 170.8 1176.4 169.1C1179.4 167.4 1184.1 164.7 1188.5 161.8C1193.0 159.0 1199.1 155.0 1203.1 152.3C1207.2 149.6 1210.2 147.7 1212.8 145.5C1215.4 143.4 1216.4 141.8 1218.9 139.5C1221.3 137.1 1225.0 133.4 1227.5 131.2C1229.9 129.1 1231.5 127.8 1233.5 126.3C1235.6 124.8 1236.3 123.9 1239.7 122.4C1243.2 120.9 1250.8 118.5 1254.3 117.3C1257.7 116.1 1258.3 116.0 1260.3 115.1C1262.4 114.3 1264.4 113.1 1266.4 112.5C1268.4 111.8 1270.5 111.7 1272.5 111.3C1274.5 110.9 1276.5 110.5 1278.5 110.0C1280.6 109.6 1282.6 108.9 1284.6 108.8C1286.6 108.7 1287.9 109.4 1290.7 109.4C1293.5 109.5 1298.8 109.2 1301.4 109.0C1304.0 108.8 1304.0 108.7 1306.1 108.4C1308.1 108.2 1311.3 107.7 1313.5 107.4C1315.8 107.2 1317.3 107.0 1319.6 107.0C1321.9 107.0 1325.3 107.6 1327.1 107.6C1328.9 107.6 1328.8 106.9 1330.3 107.0C1331.9 107.0 1334.4 107.7 1336.4 108.0C1338.4 108.3 1340.5 108.5 1342.5 108.8C1344.5 109.2 1346.1 109.2 1348.5 110.0C1351.0 110.8 1355.0 112.7 1357.0 113.7C1359.1 114.7 1359.1 115.2 1360.7 116.1C1362.3 117.0 1364.7 117.9 1366.7 118.9C1368.8 119.9 1370.7 121.1 1372.8 122.2C1374.9 123.4 1377.2 124.6 1379.3 125.9C1381.3 127.2 1383.3 128.4 1385.3 130.0C1387.3 131.5 1389.2 133.2 1391.4 135.2C1393.6 137.3 1396.3 140.4 1398.5 142.5C1400.6 144.6 1402.3 146.3 1404.3 147.9C1406.2 149.5 1408.3 150.9 1410.3 152.2C1412.4 153.5 1414.4 154.5 1416.4 155.8C1418.4 157.1 1420.0 158.2 1422.5 160.1C1425.0 162.0 1429.1 165.4 1431.4 167.2C1433.8 168.9 1434.4 169.2 1436.6 170.8C1438.8 172.4 1442.3 175.0 1444.6 176.7C1447.0 178.4 1448.7 179.6 1450.7 180.9C1452.7 182.2 1454.7 183.3 1456.7 184.6C1458.8 185.8 1460.7 186.9 1462.8 188.2C1464.9 189.5 1467.1 190.9 1469.4 192.4C1471.8 193.9 1474.5 195.7 1476.8 197.1C1479.2 198.4 1481.2 199.4 1483.3 200.4C1485.4 201.4 1486.7 202.2 1489.3 203.1C1491.8 204.0 1495.3 205.5 1498.6 206.0C1501.9 206.5 1505.7 206.7 1509.0 206.1C1512.3 205.5 1516.9 202.9 1518.5 202.3"/>
<path stroke="#ff0000" d="M0.0 398.7C1.7 398.4 6.7 397.6 10.0 397.2C13.3 396.7 16.6 396.2 20.0 395.8C23.3 395.3 26.6 394.8 29.9 394.5C33.3 394.1 36.6 393.8 39.9 393.5C43.2 393.2 46.6 393.0 49.9 392.7C53.2 392.4 56.5 392.0 59.9 391.8C63.2 391.5 66.5 391.3 69.8 391.2C73.2 391.0 76.5 390.8 79.8 390.8C83.1 390.7 86.5 390.7 89.8 390.8C93.1 390.8 96.4 390.9 99.8 391.2C103.1 391.4 106.4 391.9 109.7 392.2C113.1 392.5 116.4 392.7 119.7 393.0C123.0 393.2 126.4 393.5 129.7 393.7C133.0 393.8 136.3 393.8 139.7 394.0C143.0 394.1 146.3 394.5 149.6 394.8C153.0 395.0 156.4 395.1 159.8 395.3C163.2 395.5 166.6 395.5 170.0 396.0C173.3 396.4 176.6 397.2 180.0 398.0C183.3 398.7 186.6 399.7 189.9 400.5C193.3 401.2 196.6 401.8 199.9 402.5C203.2 403.1 206.6 403.8 209.9 404.3C213.2 404.8 216.5 405.1 219.9 405.5C223.2 405.9 226.5 406.3 229.8 406.8C233.2 407.2 236.5 407.7 239.8 408.2C243.1 408.6 246.5 409.1 249.8 409.7C253.1 410.2 256.4 410.8 259.8 411.5C263.1 412.1 266.4 413.1 269.7 413.8C273.1 414.4 276.4 414.8 279.7 415.2C283.0 415.7 286.4 416.0 289.7 416.4C293.0 416.9 296.3 417.3 299.7 417.7C303.0 418.2 306.3 418.6 309.6 418.9C313.0 419.3 316.4 419.7 319.8 420.0C323.2 420.4 326.6 420.7 330.0 421.1C333.3 421.5 336.6 422.0 340.0 422.4C343.3 422.8 346.6 423.3 349.9 423.6C353.3 424.0 356.6 424.3 359.9 424.6C363.2 424.9 366.6 425.2 369.9 425.4C373.2 425.7 376.5 425.9 379.9 426.2C383.2 426.5 386.5 426.8 389.8 427.1C393.2 427.4 396.5 427.7 399.8 427.9C403.1 428.2 406.5 428.4 409.8 428.7C413.1 429.0 416.4 429.3 419.8 429.6C423.1 429.9 426.4 430.2 429.7 430.4C433.1 430.6 436.4 430.8 439.7 430.9C443.0 431.1 446.4 431.2 449.7 431.3C453.0 431.4 456.3 431.6 459.7 431.7C463.0 431.8 466.3 431.9 469.6 432.0C473.0 432.1 476.4 432.1 479.8 432.1C483.2 432.2 486.6 432.3 490.0 432.4C493.3 432.5 496.6 432.5 500.0 432.6C503.3 432.6 506.6 432.7 509.9 432.7C513.3 432.7 516.6 432.6 519.9 432.6C523.2 432.6 526.6 432.5 529.9 432.5C533.2 432.4 536.5 432.4 539.9 432.3C543.2 432.2 546.5 432.0 549.8 431.9C553.2 431.7 556.5 431.6 559.8 431.4C563.1 431.2 566.5 430.9 569.8 430.7C573.1 430.5 576.4 430.2 579.8 430.0C583.1 429.8 586.4 429.5 589.7 429.3C593.1 429.1 596.4 428.8 599.7 428.6C603.0 428.3 606.4 428.1 609.7 427.8C613.0 427.5 616.3 427.2 619.7 426.9C623.0 426.6 626.3 426.3 629.6 425.9C633.0 425.6 636.4 425.2 639.8 424.8C643.2 424.4 646.6 423.9 650.0 423.4C653.3 422.8 656.6 422.3 660.0 421.7C663.3 421.1 666.6 420.4 669.9 419.9C673.3 419.4 676.6 419.0 679.9 418.6C683.2 418.2 686.6 417.7 689.9 417.4C693.2 417.0 696.5 416.7 699.9 416.4C703.2 416.1 706.5 415.8 709.8 415.6C713.2 415.3 716.5 415.1 719.8 414.9C723.1 414.7 726.5 414.4 729.8 414.2C733.1 413.9 736.4 413.7 739.8 413.4C743.1 413.1 746.4 412.7 749.7 412.4C753.1 412.1 756.4 411.7 759.7 411.4C763.0 411.1 766.4 410.7 769.7 410.4C773.0 410.1 776.3 409.7 779.7 409.4C783.0 409.1 786.3 408.9 789.6 408.6C793.0 408.3 796.0 408.1 799.8 407.6C803.6 407.2 808.1 406.5 812.1 405.8C816.2 405.1 820.2 404.2 824.3 403.4C828.3 402.6 832.4 401.9 836.4 401.2C840.5 400.5 844.5 400.0 848.5 399.4C852.6 398.8 856.6 398.2 860.7 397.6C864.7 396.9 868.8 396.2 872.8 395.5C876.9 394.8 880.9 394.1 885.0 393.4C889.0 392.8 889.6 393.2 897.1 391.6C904.6 390.1 922.9 385.9 930.0 384.2C937.1 382.5 936.5 382.5 939.7 381.5C942.9 380.4 946.2 379.0 949.4 378.0C952.7 376.9 955.9 376.0 959.1 375.0C962.4 374.1 965.6 373.1 968.8 372.1C972.1 371.2 975.3 370.2 978.5 369.2C981.8 368.3 985.0 367.1 988.3 366.3C991.5 365.5 994.7 365.2 998.0 364.4C1001.2 363.6 1004.4 362.6 1007.7 361.5C1010.9 360.3 1014.1 359.0 1017.4 357.6C1020.6 356.1 1023.9 354.3 1027.1 352.7C1030.3 351.1 1033.6 349.5 1036.8 347.9C1040.0 346.2 1043.3 344.6 1046.5 343.0C1049.7 341.4 1053.0 339.9 1056.2 338.2C1059.4 336.4 1062.3 334.7 1065.9 332.3C1069.5 330.0 1074.2 326.9 1077.8 324.0C1081.4 321.2 1085.2 317.5 1087.7 315.4C1090.1 313.4 1089.6 313.8 1092.5 311.6C1095.4 309.5 1100.8 305.4 1105.0 302.3C1109.1 299.2 1113.3 296.5 1117.4 292.9C1121.6 289.4 1125.7 284.8 1129.9 281.1C1134.1 277.3 1137.7 274.1 1142.4 270.5C1147.1 266.8 1152.8 262.8 1158.0 259.2C1163.2 255.7 1168.4 252.5 1173.6 249.3C1178.8 246.0 1184.0 243.4 1189.2 239.9C1194.4 236.4 1199.1 232.6 1204.8 228.1C1210.4 223.5 1218.6 216.3 1223.3 212.5C1228.0 208.6 1230.0 207.4 1233.0 204.9C1236.0 202.5 1237.2 201.1 1241.3 197.7C1245.4 194.3 1252.7 188.2 1257.7 184.4C1262.8 180.5 1267.0 177.5 1271.6 174.7C1276.2 171.8 1280.8 169.8 1285.4 167.2C1290.1 164.5 1296.3 160.9 1299.8 158.9C1303.2 156.9 1303.9 156.2 1306.1 154.9C1308.2 153.7 1310.5 152.6 1312.5 151.5C1314.5 150.4 1316.1 149.3 1318.2 148.3C1320.3 147.2 1323.2 146.3 1325.2 145.4C1327.2 144.5 1328.2 143.8 1330.3 143.0C1332.5 142.2 1335.9 141.2 1337.9 140.5C1339.9 139.7 1340.7 139.1 1342.5 138.6C1344.2 138.1 1345.5 137.7 1348.5 137.4C1351.6 137.1 1356.6 137.0 1360.7 136.8C1364.7 136.6 1369.0 136.2 1372.8 136.0C1376.6 135.7 1380.5 135.5 1383.3 135.3C1386.1 135.1 1387.3 134.8 1389.4 134.6C1391.4 134.5 1393.8 134.5 1395.4 134.6C1397.1 134.6 1397.9 134.7 1399.4 134.9C1400.9 135.0 1402.4 135.2 1404.3 135.4C1406.1 135.7 1408.3 136.0 1410.3 136.4C1412.4 136.8 1413.4 137.1 1416.4 137.6C1419.4 138.2 1424.5 139.1 1428.5 139.8C1432.6 140.6 1436.6 141.2 1440.7 142.1C1444.7 143.0 1448.3 143.9 1452.8 145.1C1457.3 146.4 1462.9 148.4 1467.5 149.8C1472.0 151.2 1476.3 152.3 1480.2 153.4C1484.1 154.4 1486.9 155.5 1490.8 156.2C1494.7 156.9 1500.3 157.6 1503.8 157.7C1507.2 157.9 1508.8 157.4 1511.6 157.2C1514.3 157.0 1518.8 156.6 1520.2 156.5"/>
<path stroke="#ff8c00" d="M0.0 420.2C1.7 420.0 6.7 419.5 10.0 419.1C13.3 418.8 16.6 418.4 20.0 418.1C23.3 417.8 26.6 417.5 29.9 417.2C33.3 416.9 36.6 416.7 39.9 416.4C43.2 416.1 46.6 415.9 49.9 415.6C53.2 415.4 56.5 415.1 59.9 414.9C63.2 414.7 66.5 414.4 69.8 414.2C73.2 414.0 76.5 413.8 79.8 413.6C83.1 413.4 86.5 413.1 89.8 412.9C93.1 412.7 96.4 412.6 99.8 412.4C103.1 412.3 106.4 412.2 109.7 412.1C113.1 412.0 116.4 412.0 119.7 411.9C123.0 411.9 126.4 411.9 129.7 411.8C133.0 411.8 136.3 411.7 139.7 411.7C143.0 411.7 146.3 411.7 149.6 411.7C153.0 411.7 156.4 411.8 159.8 411.7C163.2 411.7 166.6 411.6 170.0 411.5C173.3 411.4 176.6 411.2 180.0 411.2C183.3 411.1 186.6 411.0 189.9 411.0C193.3 410.9 196.6 410.8 199.9 410.8C203.2 410.7 206.6 410.6 209.9 410.5C213.2 410.4 216.5 410.2 219.9 410.2C223.2 410.1 226.5 410.0 229.8 410.0C233.2 409.9 236.5 409.9 239.8 409.9C243.1 409.8 246.5 409.8 249.8 409.9C253.1 409.9 256.4 409.9 259.8 410.0C263.1 410.0 266.4 410.0 269.7 410.1C273.1 410.1 276.4 410.1 279.7 410.2C283.0 410.2 286.4 410.2 289.7 410.3C293.0 410.3 296.3 410.3 299.7 410.3C303.0 410.3 306.3 410.3 309.6 410.3C313.0 410.2 316.4 410.2 319.8 410.2C323.2 410.1 326.6 410.2 330.0 410.2C333.3 410.1 336.6 410.1 340.0 410.1C343.3 410.0 346.6 410.0 349.9 410.0C353.3 409.9 356.6 409.9 359.9 409.9C363.2 409.8 366.6 409.7 369.9 409.7C373.2 409.6 376.5 409.6 379.9 409.6C383.2 409.5 386.5 409.5 389.8 409.6C393.2 409.6 396.5 409.6 399.8 409.7C403.1 409.7 406.5 409.8 409.8 410.0C413.1 410.1 416.4 410.2 419.8 410.4C423.1 410.5 426.4 410.6 429.7 410.8C433.1 410.9 436.4 411.1 439.7 411.3C443.0 411.4 446.4 411.6 449.7 411.8C453.0 411.9 456.3 412.1 459.7 412.3C463.0 412.4 466.3 412.6 469.6 412.8C473.0 412.9 476.4 413.0 479.8 413.1C483.2 413.3 486.6 413.5 490.0 413.6C493.3 413.8 496.6 414.0 500.0 414.2C503.3 414.5 506.6 414.7 509.9 414.9C513.3 415.2 516.6 415.4 519.9 415.7C523.2 416.0 526.6 416.4 529.9 416.7C533.2 417.0 536.5 417.4 539.9 417.6C543.2 417.9 546.5 418.1 549.8 418.3C553.2 418.5 556.5 418.7 559.8 418.9C563.1 419.1 566.5 419.3 569.8 419.5C573.1 419.7 576.4 419.9 579.8 420.1C583.1 420.3 586.4 420.5 589.7 420.6C593.1 420.8 596.4 420.9 599.7 421.0C603.0 421.2 606.4 421.3 609.7 421.4C613.0 421.5 616.3 421.6 619.7 421.7C623.0 421.8 626.3 422.0 629.6 422.0C633.0 422.1 636.4 422.1 639.8 422.0C643.2 422.0 646.6 421.8 650.0 421.7C653.3 421.6 656.6 421.5 660.0 421.5C663.3 421.4 666.6 421.4 669.9 421.4C673.3 421.4 676.6 421.4 679.9 421.4C683.2 421.4 686.6 421.3 689.9 421.3C693.2 421.3 696.5 421.3 699.9 421.3C703.2 421.3 706.5 421.3 709.8 421.3C713.2 421.3 716.5 421.2 719.8 421.2C723.1 421.1 726.5 421.1 729.8 421.1C733.1 421.1 736.4 421.1 739.8 421.1C743.1 421.1 746.4 421.0 749.7 421.0C753.1 420.9 756.4 420.9 759.7 420.9C763.0 420.8 766.4 420.7 769.7 420.6C773.0 420.5 776.3 420.3 779.7 420.2C783.0 420.0 786.3 419.8 789.6 419.6C793.0 419.4 791.8 419.2 799.6 418.9C807.4 418.5 828.3 418.0 836.4 417.6C844.6 417.2 844.5 416.7 848.5 416.3C852.6 415.8 856.6 415.3 860.7 414.8C864.7 414.4 868.8 414.0 872.8 413.6C876.9 413.2 880.9 412.7 885.0 412.3C889.0 411.8 889.6 411.9 897.1 410.9C904.6 410.0 921.3 408.0 930.0 406.5C938.7 405.1 942.9 403.6 949.4 402.2C955.9 400.9 962.4 399.6 968.8 398.3C975.3 397.1 981.8 395.8 988.3 394.5C994.7 393.2 1002.8 391.6 1007.7 390.6C1012.5 389.6 1014.1 389.4 1017.4 388.6C1020.6 387.8 1023.9 386.7 1027.1 385.7C1030.3 384.8 1033.6 383.8 1036.8 382.8C1040.0 381.8 1043.3 380.9 1046.5 379.9C1049.7 378.9 1053.0 378.0 1056.2 377.0C1059.4 376.0 1062.3 375.1 1065.9 373.7C1069.5 372.2 1074.2 370.0 1077.8 368.3C1081.4 366.6 1084.7 364.8 1087.7 363.4C1090.6 362.0 1091.7 361.7 1095.6 360.0C1099.5 358.3 1106.0 355.6 1111.2 353.1C1116.4 350.7 1121.6 347.8 1126.8 345.3C1132.0 342.8 1137.2 340.4 1142.4 338.2C1147.6 335.9 1152.8 334.0 1158.0 331.9C1163.2 329.8 1168.4 327.8 1173.6 325.7C1178.8 323.6 1184.0 321.7 1189.2 319.4C1194.4 317.2 1199.6 314.9 1204.8 312.3C1210.0 309.7 1215.7 306.3 1220.4 303.8C1225.1 301.4 1229.4 299.2 1233.0 297.3C1236.6 295.4 1237.8 294.8 1241.9 292.5C1246.1 290.2 1252.8 286.2 1257.7 283.6C1262.7 281.0 1267.0 278.9 1271.6 276.7C1276.2 274.5 1280.8 272.4 1285.4 270.3C1290.1 268.2 1294.7 265.9 1299.3 263.9C1303.9 261.9 1308.6 260.1 1313.2 258.4C1317.8 256.7 1322.4 255.1 1327.0 253.7C1331.7 252.2 1337.3 250.4 1340.9 249.5C1344.5 248.6 1345.7 248.7 1348.5 248.0C1351.3 247.3 1353.9 246.3 1357.7 245.3C1361.5 244.4 1366.5 243.5 1371.4 242.1C1376.4 240.7 1382.5 238.7 1387.5 237.1C1392.4 235.6 1396.6 234.3 1401.1 232.9C1405.5 231.4 1410.0 229.9 1414.3 228.5C1418.5 227.1 1422.4 225.9 1426.4 224.6C1430.5 223.4 1434.5 222.1 1438.5 221.0C1442.6 219.8 1446.6 218.8 1450.7 217.7C1454.7 216.6 1459.2 215.2 1462.8 214.3C1466.4 213.4 1469.5 212.9 1472.5 212.4C1475.4 211.8 1477.6 211.7 1480.4 211.1C1483.2 210.4 1485.8 209.1 1489.3 208.2C1492.8 207.3 1497.5 206.7 1501.2 205.7C1504.9 204.7 1508.4 203.3 1511.6 202.2C1514.8 201.2 1518.8 199.7 1520.2 199.2"/>
</g>
<rect x="0.5" y="482.0" width="1520.0" height="20.5" fill="#7cf97c"/>
<rect x="0.5" y="529.5" width="1520.0" height="21.1" fill="#fa7b7b"/>
<g stroke="#000" stroke-opacity="0.075" stroke-width="1" shape-rendering="crispEdges">
<line x1="233.5" x2="233.5" y1="481" y2="551"/>
<line x1="853.5" x2="853.5" y1="481" y2="551"/>
<line x1="1433.5" x2="1433.5" y1="481" y2="551"/>
</g>
<g fill="none" stroke="#ccd3e6" stroke-width="1" shape-rendering="crispEdges">
<rect x="0.5" y="0.5" width="1539" height="471"/>
<rect x="0.5" y="480.5" width="1539" height="71"/>
</g>
<g stroke="#000" stroke-width="1" shape-rendering="crispEdges">
<line x1="0.5" x2="0.5" y1="482" y2="503"/><line x1="1520.0" x2="1520.0" y1="482" y2="503"/>
<line x1="0.5" x2="0.5" y1="529" y2="551"/><line x1="1520.0" x2="1520.0" y1="529" y2="551"/>
</g>
<g stroke="#000" stroke-width="1" stroke-opacity="0.45" shape-rendering="crispEdges"><line x1="0" x2="1520.5" y1="502.5" y2="502.5"/><line x1="0" x2="1520.5" y1="529.5" y2="529.5"/></g>
<g stroke="#000" stroke-width="0.9" stroke-opacity="0.8">
<line x1="0" x2="1520.5" y1="502.5" y2="502.5" stroke-dasharray="2.6 1"/>
<line x1="0" x2="1520.5" y1="529.5" y2="529.5" stroke-dasharray="2.6 1"/>
</g>
<path fill="none" stroke="#1a3cff" stroke-width="1" stroke-linejoin="round" d="M0.0 520.5L5.6 516.8L10.0 513.1L16.2 519.7L19.3 518.3L23.7 521.8L26.8 522.7L29.6 523.9L33.1 519.7L36.2 518.4L40.5 522.2L47.4 523.4L49.9 523.0L56.8 518.7L60.5 514.9L63.4 511.4L66.7 515.8L69.2 516.8L74.2 520.3L76.7 520.2L79.9 517.8L83.0 519.1L86.1 517.4L89.8 519.3L93.6 522.2L96.3 519.7L103.6 526.4L106.3 522.4L109.8 524.9L116.7 527.4L120.0 527.4L123.5 520.2L126.0 521.8L129.8 524.3L132.9 523.9L136.2 520.5L139.7 523.0L142.9 521.4L146.0 523.9L149.7 521.2L153.5 522.7L158.5 521.4L162.2 523.3L172.2 526.8L175.9 526.4L183.4 529.3L186.5 528.7L190.9 523.0L194.0 520.2L196.5 520.5L200.0 525.5L203.7 520.5L208.7 520.5L213.1 522.4L220.0 515.6L223.7 510.3L226.2 510.6L230.6 516.2L233.1 516.6L236.8 518.4L239.9 516.2L243.0 516.6L246.8 512.4L249.9 512.4L253.6 516.4L259.9 517.2L263.0 519.9L267.4 527.4L270.5 530.3L273.6 526.2L276.7 521.5L279.9 521.2L283.6 518.7L289.2 521.2L293.0 520.5L296.7 523.4L303.6 525.5L308.5 523.7L313.5 520.3L317.3 522.2L322.9 521.2L326.6 517.4L329.8 522.4L336.0 516.2L340.4 508.1L342.9 508.7L347.8 513.1L352.8 513.4L357.2 516.6L360.9 516.2L364.7 517.2L367.2 516.2L373.4 509.6L376.5 509.1L380.3 504.3L382.8 506.6L386.8 512.7L389.6 511.8L393.4 508.7L396.5 512.2L400.0 510.8L403.1 509.6L406.2 518.7L409.4 520.3L413.1 518.4L416.6 522.7L421.2 517.4L424.3 515.6L426.8 515.3L429.6 516.4L433.4 512.4L436.8 513.9L439.9 514.7L446.2 514.1L449.9 516.2L453.6 516.8L456.8 514.9L459.9 515.3L463.0 514.1L466.7 517.2L469.2 516.4L473.6 521.8L476.1 521.8L479.9 520.5L484.8 522.4L489.2 522.2L493.0 515.6L496.1 515.3L499.8 517.2L503.3 507.2L506.1 509.3L509.8 511.4L513.3 507.4L516.7 515.3L520.1 508.7L523.5 511.2L529.1 511.6L533.3 517.4L536.6 515.3L539.7 516.2L542.9 515.2L545.4 511.2L549.7 500.0L553.5 503.3L559.7 502.2L563.2 499.6L566.6 509.6L570.3 507.7L576.5 512.2L580.3 508.7L585.9 506.8L589.6 508.9L593.4 511.4L596.5 510.8L600.0 515.8L603.1 516.6L606.2 515.3L610.0 515.9L613.1 517.4L616.8 509.9L620.0 506.8L623.7 507.2L629.3 502.5L633.1 509.3L636.2 509.3L639.9 506.8L643.0 506.6L646.8 513.9L649.9 511.4L653.6 509.9L656.8 509.3L659.9 510.6L663.0 507.2L666.1 504.3L670.5 509.7L676.7 509.3L679.9 511.8L683.0 514.3L686.1 516.2L689.8 514.1L693.6 517.4L696.7 517.2L700.4 514.3L703.3 514.7L706.7 517.8L709.8 519.9L716.7 523.7L720.1 522.2L726.6 519.3L729.8 519.7L733.3 522.2L736.6 518.7L740.4 515.6L743.5 516.6L746.6 514.7L749.7 514.1L752.8 514.9L757.0 518.7L759.7 517.4L763.4 513.1L767.2 513.9L770.3 513.4L775.9 516.4L779.7 509.9L783.4 515.3L786.5 515.6L790.3 510.6L793.4 507.4L796.5 501.2L800.0 509.3L803.1 513.1L806.2 511.4L809.7 513.4L813.7 508.7L820.0 503.7L823.1 505.0L826.8 503.1L833.1 502.8L836.6 507.7L839.9 505.3L843.0 507.4L846.8 509.9L849.9 509.3L856.1 506.8L859.9 509.7L863.6 506.8L866.7 505.6L869.9 501.5L873.6 508.1L876.7 506.2L883.0 503.7L886.7 495.0L889.8 495.6L893.6 497.5L899.2 498.1L902.9 494.0L906.1 493.1L909.8 495.0L913.5 502.2L917.3 501.2L919.8 499.3L922.9 508.1L926.0 509.6L930.4 509.7L934.1 508.7L937.2 505.0L940.4 500.3L943.5 499.0L946.6 496.5L950.3 500.0L953.5 497.5L956.6 502.5L962.8 502.5L966.6 506.6L970.3 505.6L973.4 504.3L975.9 505.3L979.7 502.7L983.4 506.6L986.5 505.3L989.6 507.7L993.4 515.3L996.5 514.9L1000.0 513.3L1002.5 510.6L1006.2 504.3L1011.9 504.3L1016.2 500.6L1019.3 499.0L1023.7 495.0L1026.8 494.3L1033.1 493.1L1036.2 498.5L1039.9 502.2L1043.0 500.0L1046.8 503.3L1049.9 502.7L1053.6 507.2L1056.8 504.3L1059.9 504.1L1063.6 498.7L1066.7 497.5L1069.9 497.1L1073.0 496.0L1076.5 491.5L1079.9 493.7L1083.3 496.0L1086.7 494.3L1089.8 494.6L1093.0 498.1L1096.7 509.6L1099.8 507.7L1103.3 505.6L1106.7 505.6L1110.4 509.1L1113.5 508.4L1116.7 509.9L1120.1 504.3L1123.3 501.0L1126.6 504.6L1129.8 504.1L1136.0 507.2L1139.7 507.4L1143.5 511.8L1147.0 515.6L1149.7 515.3L1153.5 512.7L1156.6 512.4L1160.3 516.2L1163.7 520.2L1166.6 518.4L1169.9 514.3L1173.4 519.1L1176.5 520.2L1179.9 522.7L1183.4 517.4L1186.5 516.8L1192.8 512.7L1196.5 509.9L1200.0 511.4L1206.2 506.0L1210.0 508.9L1216.2 508.1L1220.3 501.5L1223.1 502.8L1226.6 502.7L1229.9 510.6L1233.4 506.5L1239.9 511.2L1243.0 511.8L1246.8 513.1L1249.9 511.4L1253.4 508.4L1256.8 511.2L1262.4 510.6L1266.7 514.9L1273.6 519.7L1276.7 520.3L1280.5 518.3L1286.1 519.3L1289.8 522.2L1293.0 517.4L1296.4 513.1L1300.4 516.2L1306.7 516.8L1309.8 513.7L1313.5 521.2L1316.7 522.0L1319.8 520.3L1323.5 523.7L1326.6 525.5L1329.8 522.4L1336.6 527.4L1339.7 524.3L1343.5 528.9L1346.6 529.3L1349.7 528.4L1353.5 531.2L1359.7 532.4L1363.4 529.9L1366.6 519.7L1369.9 522.7L1376.5 521.8L1379.7 521.8L1383.4 520.9L1386.8 518.3L1390.3 520.5L1393.4 519.6L1397.1 523.0L1400.0 523.4L1403.1 519.7L1406.2 522.4L1410.0 518.9L1412.5 517.4L1416.6 513.4L1420.0 515.2L1423.1 516.2L1426.2 515.6L1429.9 520.3L1433.4 519.9L1436.6 520.9L1439.9 518.7L1443.0 520.9L1446.8 523.4L1449.9 523.9L1453.4 523.7L1456.8 520.3L1460.3 516.8L1463.6 515.8L1466.7 513.3L1470.5 515.6L1473.6 517.4L1476.7 519.7L1480.1 515.8L1483.3 518.4L1486.7 519.1L1489.8 516.2L1493.6 512.7L1496.3 511.2L1499.8 514.6L1502.9 513.9L1506.7 508.9L1509.8 505.6L1513.3 502.5L1516.7 502.5L1520.4 502.5"/>
<rect x="1" y="472" width="1538" height="8" fill="#fff"/>
<g fill="#666" shape-rendering="crispEdges"><rect x="759" y="474" width="20" height="1"/><rect x="759" y="476" width="20" height="1"/><rect x="759" y="478" width="20" height="1"/></g>
<g fill="#8a8a8a">
<rect x="1540" y="16.70" width="5" height="1"/>
<rect x="1540" y="47.56" width="5" height="1"/>
<rect x="1540" y="78.41" width="5" height="1"/>
<rect x="1540" y="109.27" width="5" height="1"/>
<rect x="1540" y="140.13" width="5" height="1"/>
<rect x="1540" y="170.98" width="5" height="1"/>
<rect x="1540" y="201.84" width="5" height="1"/>
<rect x="1540" y="232.70" width="5" height="1"/>
<rect x="1540" y="263.56" width="5" height="1"/>
<rect x="1540" y="294.41" width="5" height="1"/>
<rect x="1540" y="325.27" width="5" height="1"/>
<rect x="1540" y="356.13" width="5" height="1"/>
<rect x="1540" y="386.98" width="5" height="1"/>
<rect x="1540" y="417.84" width="5" height="1"/>
<rect x="1540" y="448.70" width="5" height="1"/>
<rect x="1540" y="515.50" width="5" height="1"/>
<rect x="1540" y="549.70" width="5" height="1"/>
</g>
<g fill="#555555" font-size="11">
<text x="1547.1" y="21.5">4.0000</text>
<text x="1547.1" y="52.4">3.8000</text>
<text x="1547.1" y="83.2">3.6000</text>
<text x="1547.1" y="114.1">3.4000</text>
<text x="1547.1" y="144.9">3.2000</text>
<text x="1547.1" y="175.8">3.0000</text>
<text x="1547.1" y="206.6">2.8000</text>
<text x="1547.1" y="237.5">2.6000</text>
<text x="1547.1" y="268.4">2.4000</text>
<text x="1547.1" y="299.2">2.2000</text>
<text x="1547.1" y="330.1">2.0000</text>
<text x="1547.1" y="360.9">1.8000</text>
<text x="1547.1" y="391.8">1.6000</text>
<text x="1547.1" y="422.6">1.4000</text>
<text x="1547.1" y="453.5">1.2000</text>
<text x="1547.1" y="520.3">50.0000</text>
<text x="1547.1" y="553.6">0.0000</text>
</g>
<rect x="1543" y="128" width="43" height="15" rx="1" fill="#2f4d7b"/><path d="M1540.3 135.5 L1543.2 131.5 L1543.2 139.5 Z" fill="#2f4d7b"/>
<text x="1547.5" y="139.8" font-size="11" font-weight="bold" fill="#fff">3.2347</text>
<g fill="#999">
<rect x="0.0" y="552" width="1" height="2"/>
<rect x="29.5" y="552" width="1" height="2"/>
<rect x="59.5" y="552" width="1" height="2"/>
<rect x="89.5" y="552" width="1" height="2"/>
<rect x="119.5" y="552" width="1" height="2"/>
<rect x="149.5" y="552" width="1" height="2"/>
<rect x="179.5" y="552" width="1" height="2"/>
<rect x="209.5" y="552" width="1" height="2"/>
<rect x="233.0" y="552" width="1" height="2"/>
<rect x="259.7" y="552" width="1" height="2"/>
<rect x="286.3" y="552" width="1" height="2"/>
<rect x="313.0" y="552" width="1" height="2"/>
<rect x="339.7" y="552" width="1" height="2"/>
<rect x="366.3" y="552" width="1" height="2"/>
<rect x="393.0" y="552" width="1" height="2"/>
<rect x="419.7" y="552" width="1" height="2"/>
<rect x="446.3" y="552" width="1" height="2"/>
<rect x="473.0" y="552" width="1" height="2"/>
<rect x="499.7" y="552" width="1" height="2"/>
<rect x="526.3" y="552" width="1" height="2"/>
<rect x="553.0" y="552" width="1" height="2"/>
<rect x="579.7" y="552" width="1" height="2"/>
<rect x="606.3" y="552" width="1" height="2"/>
<rect x="633.0" y="552" width="1" height="2"/>
<rect x="659.7" y="552" width="1" height="2"/>
<rect x="686.3" y="552" width="1" height="2"/>
<rect x="713.0" y="552" width="1" height="2"/>
<rect x="739.7" y="552" width="1" height="2"/>
<rect x="766.3" y="552" width="1" height="2"/>
<rect x="793.0" y="552" width="1" height="2"/>
<rect x="819.7" y="552" width="1" height="2"/>
<rect x="853.0" y="552" width="1" height="2"/>
<rect x="879.3" y="552" width="1" height="2"/>
<rect x="906.0" y="552" width="1" height="2"/>
<rect x="932.7" y="552" width="1" height="2"/>
<rect x="959.3" y="552" width="1" height="2"/>
<rect x="986.0" y="552" width="1" height="2"/>
<rect x="1012.7" y="552" width="1" height="2"/>
<rect x="1039.3" y="552" width="1" height="2"/>
<rect x="1066.0" y="552" width="1" height="2"/>
<rect x="1092.7" y="552" width="1" height="2"/>
<rect x="1119.3" y="552" width="1" height="2"/>
<rect x="1146.0" y="552" width="1" height="2"/>
<rect x="1172.7" y="552" width="1" height="2"/>
<rect x="1199.3" y="552" width="1" height="2"/>
<rect x="1226.0" y="552" width="1" height="2"/>
<rect x="1252.7" y="552" width="1" height="2"/>
<rect x="1279.3" y="552" width="1" height="2"/>
<rect x="1306.0" y="552" width="1" height="2"/>
<rect x="1332.7" y="552" width="1" height="2"/>
<rect x="1359.3" y="552" width="1" height="2"/>
<rect x="1386.0" y="552" width="1" height="2"/>
<rect x="1412.7" y="552" width="1" height="2"/>
<rect x="1433.0" y="552" width="1" height="2"/>
<rect x="1459.3" y="552" width="1" height="2"/>
<rect x="1486.0" y="552" width="1" height="2"/>
<rect x="1512.7" y="552" width="1" height="2"/>
</g>
<g fill="#555555" font-size="11" text-anchor="middle">
<text x="0.1" y="568" text-anchor="start">Dec</text>
<text x="30.0" y="568">21</text>
<text x="60.0" y="568">23</text>
<text x="90.0" y="568">24</text>
<text x="120.0" y="568">26</text>
<text x="150.0" y="568">27</text>
<text x="180.0" y="568">29</text>
<text x="210.0" y="568">30</text>
<text x="233.5" y="568">Jan</text>
<text x="260.2" y="568">2</text>
<text x="286.8" y="568">3</text>
<text x="313.5" y="568">5</text>
<text x="340.2" y="568">6</text>
<text x="366.8" y="568">7</text>
<text x="393.5" y="568">9</text>
<text x="420.2" y="568">10</text>
<text x="446.8" y="568">11</text>
<text x="473.5" y="568">13</text>
<text x="500.2" y="568">14</text>
<text x="526.8" y="568">15</text>
<text x="553.5" y="568">17</text>
<text x="580.2" y="568">18</text>
<text x="606.8" y="568">19</text>
<text x="633.5" y="568">21</text>
<text x="660.2" y="568">22</text>
<text x="686.8" y="568">23</text>
<text x="713.5" y="568">25</text>
<text x="740.2" y="568">26</text>
<text x="766.8" y="568">27</text>
<text x="793.5" y="568">29</text>
<text x="820.2" y="568">30</text>
<text x="853.5" y="568">Feb</text>
<text x="879.8" y="568">2</text>
<text x="906.5" y="568">3</text>
<text x="933.2" y="568">5</text>
<text x="959.8" y="568">6</text>
<text x="986.5" y="568">7</text>
<text x="1013.2" y="568">9</text>
<text x="1039.8" y="568">10</text>
<text x="1066.5" y="568">11</text>
<text x="1093.2" y="568">13</text>
<text x="1119.8" y="568">14</text>
<text x="1146.5" y="568">15</text>
<text x="1173.2" y="568">17</text>
<text x="1199.8" y="568">18</text>
<text x="1226.5" y="568">19</text>
<text x="1253.2" y="568">21</text>
<text x="1279.8" y="568">22</text>
<text x="1306.5" y="568">23</text>
<text x="1333.2" y="568">25</text>
<text x="1359.8" y="568">26</text>
<text x="1386.5" y="568">27</text>
<text x="1413.2" y="568">29</text>
<text x="1433.5" y="568">Mar</text>
<text x="1459.8" y="568">2</text>
<text x="1486.5" y="568">3</text>
<text x="1513.2" y="568">5</text>
</g>
<rect x="5" y="5" width="121" height="21" fill="#000" fill-opacity="0.6"/>
<rect x="5" y="5" width="2" height="21" fill="#26806b"/>
<text x="16.0" y="18.7" font-size="11" fill="#fff" stroke="#fff" stroke-width="0.2">XTZ/USD (Kraken)</text>
<rect x="5" y="32" width="84" height="21" fill="#000" fill-opacity="0.6"/>
<rect x="5" y="32" width="2" height="21" fill="#0000ff"/>
<text x="16.0" y="46.7" font-size="11" fill="#fff" stroke="#fff" stroke-width="0.2">SMA (50,0)</text>
<rect x="5" y="59" width="90" height="21" fill="#000" fill-opacity="0.6"/>
<rect x="5" y="59" width="2" height="21" fill="#ff0000"/>
<text x="16.0" y="72.7" font-size="11" fill="#fff" stroke="#fff" stroke-width="0.2">SMA (100,0)</text>
<rect x="5" y="86" width="90" height="21" fill="#000" fill-opacity="0.6"/>
<rect x="5" y="86" width="2" height="21" fill="#ff8c00"/>
<text x="16.0" y="100.7" font-size="11" fill="#fff" stroke="#fff" stroke-width="0.2">SMA (200,0)</text>
<rect x="5" y="485" width="110" height="21" fill="#000" fill-opacity="0.6"/>
<rect x="5" y="485" width="2" height="21" fill="#00f000"/>
<text x="16.0" y="498.7" font-size="11" fill="#fff" stroke="#fff" stroke-width="0.2">RSI (14,70,30,1)</text>
</svg>
</body></html>
